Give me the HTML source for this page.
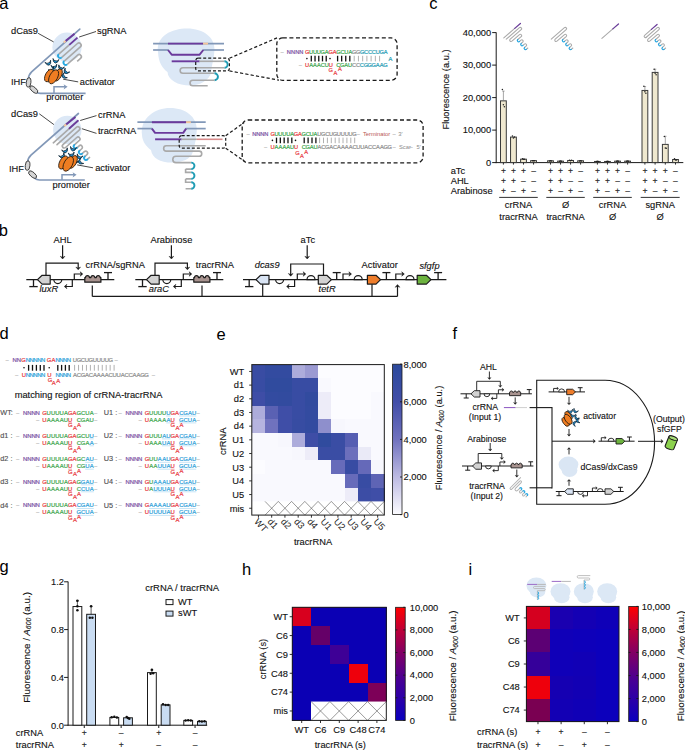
<!DOCTYPE html>
<html><head><meta charset="utf-8"><style>
html,body{margin:0;padding:0;background:#fff;}
body{width:685px;height:750px;overflow:hidden;}
svg{display:block;font-family:"Liberation Sans", sans-serif;}
</style></head><body>
<svg width="685" height="750" viewBox="0 0 685 750">
<rect width="685" height="750" fill="#fff"/>
<g transform="translate(503.80,37.90) rotate(-41) scale(1.0)" fill="none" stroke-linecap="round"><path d="M1,2.6 L18.5,2.6 A1.3,1.3 0 0 1 18.5,5.2 L4,5.2 A1.3,1.3 0 0 0 4,7.800000000000001 L14,7.800000000000001 A1.3,1.3 0 0 1 14,10.4 L9.5,10.4 M9.5,13.0 L11.5,13.0 A1.3,1.3 0 0 1 11.5,15.600000000000001 L9.5,15.600000000000001 M9.5,18.200000000000003 L11.5,18.200000000000003 A1.3,1.3 0 0 1 11.5,20.8 L9.5,20.8 M9.5,23.400000000000002 L11.5,23.400000000000002" stroke="#a9a9a9" stroke-width="1.05"/><path d="M9.5,10.4 A1.3,1.3 0 0 0 9.5,13.0 M9.5,15.600000000000001 A1.3,1.3 0 0 0 9.5,18.200000000000003 M9.5,20.8 A1.3,1.3 0 0 0 9.5,23.400000000000002" stroke="#2aa7e0" stroke-width="1.21"/><path d="M0,0 L14.5,0" stroke="#a9a9a9" stroke-width="1.05"/><path d="M14.5,0 L22,0" stroke="#6a3d9a" stroke-width="1.26"/></g>
<g transform="translate(548.80,37.90) rotate(-41) scale(1.0)" fill="none" stroke-linecap="round"><path d="M1,2.6 L18.5,2.6 A1.3,1.3 0 0 1 18.5,5.2 L4,5.2 A1.3,1.3 0 0 0 4,7.800000000000001 L14,7.800000000000001 A1.3,1.3 0 0 1 14,10.4 L9.5,10.4 M9.5,13.0 L11.5,13.0 A1.3,1.3 0 0 1 11.5,15.600000000000001 L9.5,15.600000000000001 M9.5,18.200000000000003 L11.5,18.200000000000003 A1.3,1.3 0 0 1 11.5,20.8 L9.5,20.8 M9.5,23.400000000000002 L11.5,23.400000000000002" stroke="#a9a9a9" stroke-width="1.05"/><path d="M9.5,10.4 A1.3,1.3 0 0 0 9.5,13.0 M9.5,15.600000000000001 A1.3,1.3 0 0 0 9.5,18.200000000000003 M9.5,20.8 A1.3,1.3 0 0 0 9.5,23.400000000000002" stroke="#2aa7e0" stroke-width="1.21"/></g>
<g transform="translate(601.90,38.40) rotate(-41) scale(1.0)" fill="none" stroke-linecap="round"><path d="M0,0 L14.5,0" stroke="#a9a9a9" stroke-width="1.05"/><path d="M14.5,0 L22,0" stroke="#6a3d9a" stroke-width="1.26"/></g>
<g transform="translate(641.60,37.90) rotate(-41) scale(1.0)" fill="none" stroke-linecap="round"><path d="M13,0 L4,0 A1.3,1.3 0 0 0 4,2.6" stroke="#a9a9a9" stroke-width="1.05"/><path d="M4,2.6 L18.5,2.6 A1.3,1.3 0 0 1 18.5,5.2 L4,5.2 A1.3,1.3 0 0 0 4,7.800000000000001 L14,7.800000000000001 A1.3,1.3 0 0 1 14,10.4 L9.5,10.4 M9.5,13.0 L11.5,13.0 A1.3,1.3 0 0 1 11.5,15.600000000000001 L9.5,15.600000000000001 M9.5,18.200000000000003 L11.5,18.200000000000003 A1.3,1.3 0 0 1 11.5,20.8 L9.5,20.8 M9.5,23.400000000000002 L11.5,23.400000000000002" stroke="#a9a9a9" stroke-width="1.05"/><path d="M9.5,10.4 A1.3,1.3 0 0 0 9.5,13.0 M9.5,15.600000000000001 A1.3,1.3 0 0 0 9.5,18.200000000000003 M9.5,20.8 A1.3,1.3 0 0 0 9.5,23.400000000000002" stroke="#2aa7e0" stroke-width="1.21"/><path d="M13,0 L20.5,0" stroke="#6a3d9a" stroke-width="1.26"/></g>
<text x="429.20" y="9.20" font-size="16.5" text-anchor="start" fill="#000" >c</text>
<line x1="496.20" y1="32.40" x2="496.20" y2="163.10" stroke="#1a1a1a" stroke-width="1" />
<line x1="492.20" y1="162.60" x2="496.20" y2="162.60" stroke="#1a1a1a" stroke-width="1" />
<text x="491.20" y="165.90" font-size="9.3" text-anchor="end" fill="#111" stroke="#111" stroke-width="0.12" >0</text>
<line x1="492.20" y1="130.10" x2="496.20" y2="130.10" stroke="#1a1a1a" stroke-width="1" />
<text x="491.20" y="133.40" font-size="9.3" text-anchor="end" fill="#111" stroke="#111" stroke-width="0.12" >10,000</text>
<line x1="492.20" y1="97.60" x2="496.20" y2="97.60" stroke="#1a1a1a" stroke-width="1" />
<text x="491.20" y="100.90" font-size="9.3" text-anchor="end" fill="#111" stroke="#111" stroke-width="0.12" >20,000</text>
<line x1="492.20" y1="65.10" x2="496.20" y2="65.10" stroke="#1a1a1a" stroke-width="1" />
<text x="491.20" y="68.40" font-size="9.3" text-anchor="end" fill="#111" stroke="#111" stroke-width="0.12" >30,000</text>
<line x1="492.20" y1="32.60" x2="496.20" y2="32.60" stroke="#1a1a1a" stroke-width="1" />
<text x="491.20" y="35.90" font-size="9.3" text-anchor="end" fill="#111" stroke="#111" stroke-width="0.12" >40,000</text>
<text transform="translate(449.30,89.50) rotate(-90)" font-size="9.3" text-anchor="middle" fill="#111" stroke="#111" stroke-width="0.12" >Fluorescence (a.u.)</text>
<line x1="495.70" y1="162.60" x2="683.30" y2="162.60" stroke="#1a1a1a" stroke-width="1" />
<rect x="500.50" y="100.85" width="5.80" height="61.75" fill="#efe8cf" stroke="#3a3a3a" stroke-width="1.0" />
<line x1="503.40" y1="91.10" x2="503.40" y2="100.85" stroke="#6a6a6a" stroke-width="0.6" />
<line x1="502.20" y1="91.10" x2="504.60" y2="91.10" stroke="#6a6a6a" stroke-width="0.6" />
<circle cx="502.40" cy="89.47" r="0.75" fill="#222" stroke="none" stroke-width="1" />
<circle cx="503.40" cy="104.75" r="0.75" fill="#222" stroke="none" stroke-width="1" />
<circle cx="504.40" cy="106.70" r="0.75" fill="#222" stroke="none" stroke-width="1" />
<line x1="503.40" y1="162.60" x2="503.40" y2="164.60" stroke="#1a1a1a" stroke-width="0.9" />
<rect x="510.55" y="137.09" width="5.80" height="25.51" fill="#efe8cf" stroke="#3a3a3a" stroke-width="1.0" />
<circle cx="512.45" cy="135.95" r="0.75" fill="#222" stroke="none" stroke-width="1" />
<circle cx="513.45" cy="137.90" r="0.75" fill="#222" stroke="none" stroke-width="1" />
<circle cx="514.45" cy="136.92" r="0.75" fill="#222" stroke="none" stroke-width="1" />
<line x1="513.45" y1="162.60" x2="513.45" y2="164.60" stroke="#1a1a1a" stroke-width="0.9" />
<rect x="520.60" y="159.19" width="5.80" height="3.41" fill="#efe8cf" stroke="#3a3a3a" stroke-width="1.0" />
<circle cx="522.50" cy="158.70" r="0.75" fill="#222" stroke="none" stroke-width="1" />
<circle cx="523.50" cy="159.35" r="0.75" fill="#222" stroke="none" stroke-width="1" />
<circle cx="524.50" cy="159.35" r="0.75" fill="#222" stroke="none" stroke-width="1" />
<line x1="523.50" y1="162.60" x2="523.50" y2="164.60" stroke="#1a1a1a" stroke-width="0.9" />
<rect x="530.65" y="160.65" width="5.80" height="1.95" fill="#efe8cf" stroke="#3a3a3a" stroke-width="1.0" />
<circle cx="532.55" cy="160.65" r="0.75" fill="#222" stroke="none" stroke-width="1" />
<circle cx="533.55" cy="160.65" r="0.75" fill="#222" stroke="none" stroke-width="1" />
<circle cx="534.55" cy="160.65" r="0.75" fill="#222" stroke="none" stroke-width="1" />
<line x1="533.55" y1="162.60" x2="533.55" y2="164.60" stroke="#1a1a1a" stroke-width="0.9" />
<rect x="547.60" y="160.81" width="5.80" height="1.79" fill="#efe8cf" stroke="#3a3a3a" stroke-width="1.0" />
<circle cx="549.50" cy="160.97" r="0.75" fill="#222" stroke="none" stroke-width="1" />
<circle cx="550.50" cy="160.65" r="0.75" fill="#222" stroke="none" stroke-width="1" />
<circle cx="551.50" cy="160.97" r="0.75" fill="#222" stroke="none" stroke-width="1" />
<line x1="550.50" y1="162.60" x2="550.50" y2="164.60" stroke="#1a1a1a" stroke-width="0.9" />
<rect x="557.63" y="161.14" width="5.80" height="1.46" fill="#efe8cf" stroke="#3a3a3a" stroke-width="1.0" />
<circle cx="559.53" cy="161.30" r="0.75" fill="#222" stroke="none" stroke-width="1" />
<circle cx="560.53" cy="160.97" r="0.75" fill="#222" stroke="none" stroke-width="1" />
<circle cx="561.53" cy="161.30" r="0.75" fill="#222" stroke="none" stroke-width="1" />
<line x1="560.53" y1="162.60" x2="560.53" y2="164.60" stroke="#1a1a1a" stroke-width="0.9" />
<rect x="567.66" y="160.49" width="5.80" height="2.11" fill="#efe8cf" stroke="#3a3a3a" stroke-width="1.0" />
<circle cx="569.56" cy="160.32" r="0.75" fill="#222" stroke="none" stroke-width="1" />
<circle cx="570.56" cy="160.65" r="0.75" fill="#222" stroke="none" stroke-width="1" />
<circle cx="571.56" cy="160.32" r="0.75" fill="#222" stroke="none" stroke-width="1" />
<line x1="570.56" y1="162.60" x2="570.56" y2="164.60" stroke="#1a1a1a" stroke-width="0.9" />
<rect x="577.69" y="160.81" width="5.80" height="1.79" fill="#efe8cf" stroke="#3a3a3a" stroke-width="1.0" />
<circle cx="579.59" cy="160.97" r="0.75" fill="#222" stroke="none" stroke-width="1" />
<circle cx="580.59" cy="160.65" r="0.75" fill="#222" stroke="none" stroke-width="1" />
<circle cx="581.59" cy="160.97" r="0.75" fill="#222" stroke="none" stroke-width="1" />
<line x1="580.59" y1="162.60" x2="580.59" y2="164.60" stroke="#1a1a1a" stroke-width="0.9" />
<rect x="594.50" y="161.46" width="5.80" height="1.14" fill="#efe8cf" stroke="#3a3a3a" stroke-width="1.0" />
<circle cx="596.40" cy="161.62" r="0.75" fill="#222" stroke="none" stroke-width="1" />
<circle cx="597.40" cy="161.30" r="0.75" fill="#222" stroke="none" stroke-width="1" />
<circle cx="598.40" cy="161.62" r="0.75" fill="#222" stroke="none" stroke-width="1" />
<line x1="597.40" y1="162.60" x2="597.40" y2="164.60" stroke="#1a1a1a" stroke-width="0.9" />
<rect x="604.57" y="161.46" width="5.80" height="1.14" fill="#efe8cf" stroke="#3a3a3a" stroke-width="1.0" />
<circle cx="606.47" cy="161.62" r="0.75" fill="#222" stroke="none" stroke-width="1" />
<circle cx="607.47" cy="161.30" r="0.75" fill="#222" stroke="none" stroke-width="1" />
<circle cx="608.47" cy="161.62" r="0.75" fill="#222" stroke="none" stroke-width="1" />
<line x1="607.47" y1="162.60" x2="607.47" y2="164.60" stroke="#1a1a1a" stroke-width="0.9" />
<rect x="614.64" y="161.14" width="5.80" height="1.46" fill="#efe8cf" stroke="#3a3a3a" stroke-width="1.0" />
<circle cx="616.54" cy="161.30" r="0.75" fill="#222" stroke="none" stroke-width="1" />
<circle cx="617.54" cy="160.97" r="0.75" fill="#222" stroke="none" stroke-width="1" />
<circle cx="618.54" cy="161.30" r="0.75" fill="#222" stroke="none" stroke-width="1" />
<line x1="617.54" y1="162.60" x2="617.54" y2="164.60" stroke="#1a1a1a" stroke-width="0.9" />
<rect x="624.71" y="161.14" width="5.80" height="1.46" fill="#efe8cf" stroke="#3a3a3a" stroke-width="1.0" />
<circle cx="626.61" cy="161.30" r="0.75" fill="#222" stroke="none" stroke-width="1" />
<circle cx="627.61" cy="160.97" r="0.75" fill="#222" stroke="none" stroke-width="1" />
<circle cx="628.61" cy="161.30" r="0.75" fill="#222" stroke="none" stroke-width="1" />
<line x1="627.61" y1="162.60" x2="627.61" y2="164.60" stroke="#1a1a1a" stroke-width="0.9" />
<rect x="642.00" y="90.45" width="5.80" height="72.15" fill="#efe8cf" stroke="#3a3a3a" stroke-width="1.0" />
<line x1="644.90" y1="86.55" x2="644.90" y2="90.45" stroke="#6a6a6a" stroke-width="0.6" />
<line x1="643.70" y1="86.55" x2="646.10" y2="86.55" stroke="#6a6a6a" stroke-width="0.6" />
<circle cx="643.90" cy="86.22" r="0.75" fill="#222" stroke="none" stroke-width="1" />
<circle cx="644.90" cy="91.75" r="0.75" fill="#222" stroke="none" stroke-width="1" />
<circle cx="645.90" cy="93.37" r="0.75" fill="#222" stroke="none" stroke-width="1" />
<line x1="644.90" y1="162.60" x2="644.90" y2="164.60" stroke="#1a1a1a" stroke-width="0.9" />
<rect x="652.20" y="72.41" width="5.80" height="90.19" fill="#efe8cf" stroke="#3a3a3a" stroke-width="1.0" />
<line x1="655.10" y1="69.16" x2="655.10" y2="72.41" stroke="#6a6a6a" stroke-width="0.6" />
<line x1="653.90" y1="69.16" x2="656.30" y2="69.16" stroke="#6a6a6a" stroke-width="0.6" />
<circle cx="654.10" cy="69.33" r="0.75" fill="#222" stroke="none" stroke-width="1" />
<circle cx="655.10" cy="73.22" r="0.75" fill="#222" stroke="none" stroke-width="1" />
<circle cx="656.10" cy="74.85" r="0.75" fill="#222" stroke="none" stroke-width="1" />
<line x1="655.10" y1="162.60" x2="655.10" y2="164.60" stroke="#1a1a1a" stroke-width="0.9" />
<rect x="662.40" y="144.40" width="5.80" height="18.20" fill="#efe8cf" stroke="#3a3a3a" stroke-width="1.0" />
<line x1="665.30" y1="136.28" x2="665.30" y2="144.40" stroke="#6a6a6a" stroke-width="0.6" />
<line x1="664.10" y1="136.28" x2="666.50" y2="136.28" stroke="#6a6a6a" stroke-width="0.6" />
<circle cx="664.30" cy="136.60" r="0.75" fill="#222" stroke="none" stroke-width="1" />
<circle cx="665.30" cy="147.97" r="0.75" fill="#222" stroke="none" stroke-width="1" />
<circle cx="666.30" cy="148.30" r="0.75" fill="#222" stroke="none" stroke-width="1" />
<line x1="665.30" y1="162.60" x2="665.30" y2="164.60" stroke="#1a1a1a" stroke-width="0.9" />
<rect x="672.60" y="159.51" width="5.80" height="3.09" fill="#efe8cf" stroke="#3a3a3a" stroke-width="1.0" />
<circle cx="674.50" cy="158.70" r="0.75" fill="#222" stroke="none" stroke-width="1" />
<circle cx="675.50" cy="160.00" r="0.75" fill="#222" stroke="none" stroke-width="1" />
<circle cx="676.50" cy="160.00" r="0.75" fill="#222" stroke="none" stroke-width="1" />
<line x1="675.50" y1="162.60" x2="675.50" y2="164.60" stroke="#1a1a1a" stroke-width="0.9" />
<text x="450.70" y="174.30" font-size="9.3" text-anchor="start" fill="#111" stroke="#111" stroke-width="0.12" >aTc</text>
<text x="450.70" y="184.10" font-size="9.3" text-anchor="start" fill="#111" stroke="#111" stroke-width="0.12" >AHL</text>
<text x="450.70" y="194.00" font-size="9.3" text-anchor="start" fill="#111" stroke="#111" stroke-width="0.12" >Arabinose</text>
<text x="503.40" y="174.00" font-size="8.6" text-anchor="middle" fill="#111" stroke="#111" stroke-width="0.12" >+</text>
<text x="513.45" y="174.00" font-size="8.6" text-anchor="middle" fill="#111" stroke="#111" stroke-width="0.12" >+</text>
<text x="523.50" y="174.00" font-size="8.6" text-anchor="middle" fill="#111" stroke="#111" stroke-width="0.12" >+</text>
<text x="533.55" y="174.00" font-size="8.6" text-anchor="middle" fill="#111" stroke="#111" stroke-width="0.12" >–</text>
<text x="550.50" y="174.00" font-size="8.6" text-anchor="middle" fill="#111" stroke="#111" stroke-width="0.12" >+</text>
<text x="560.53" y="174.00" font-size="8.6" text-anchor="middle" fill="#111" stroke="#111" stroke-width="0.12" >+</text>
<text x="570.56" y="174.00" font-size="8.6" text-anchor="middle" fill="#111" stroke="#111" stroke-width="0.12" >+</text>
<text x="580.59" y="174.00" font-size="8.6" text-anchor="middle" fill="#111" stroke="#111" stroke-width="0.12" >–</text>
<text x="597.40" y="174.00" font-size="8.6" text-anchor="middle" fill="#111" stroke="#111" stroke-width="0.12" >+</text>
<text x="607.47" y="174.00" font-size="8.6" text-anchor="middle" fill="#111" stroke="#111" stroke-width="0.12" >+</text>
<text x="617.54" y="174.00" font-size="8.6" text-anchor="middle" fill="#111" stroke="#111" stroke-width="0.12" >+</text>
<text x="627.61" y="174.00" font-size="8.6" text-anchor="middle" fill="#111" stroke="#111" stroke-width="0.12" >–</text>
<text x="644.90" y="174.00" font-size="8.6" text-anchor="middle" fill="#111" stroke="#111" stroke-width="0.12" >+</text>
<text x="655.10" y="174.00" font-size="8.6" text-anchor="middle" fill="#111" stroke="#111" stroke-width="0.12" >+</text>
<text x="665.30" y="174.00" font-size="8.6" text-anchor="middle" fill="#111" stroke="#111" stroke-width="0.12" >+</text>
<text x="675.50" y="174.00" font-size="8.6" text-anchor="middle" fill="#111" stroke="#111" stroke-width="0.12" >–</text>
<text x="503.40" y="183.80" font-size="8.6" text-anchor="middle" fill="#111" stroke="#111" stroke-width="0.12" >+</text>
<text x="513.45" y="183.80" font-size="8.6" text-anchor="middle" fill="#111" stroke="#111" stroke-width="0.12" >+</text>
<text x="523.50" y="183.80" font-size="8.6" text-anchor="middle" fill="#111" stroke="#111" stroke-width="0.12" >–</text>
<text x="533.55" y="183.80" font-size="8.6" text-anchor="middle" fill="#111" stroke="#111" stroke-width="0.12" >–</text>
<text x="550.50" y="183.80" font-size="8.6" text-anchor="middle" fill="#111" stroke="#111" stroke-width="0.12" >+</text>
<text x="560.53" y="183.80" font-size="8.6" text-anchor="middle" fill="#111" stroke="#111" stroke-width="0.12" >+</text>
<text x="570.56" y="183.80" font-size="8.6" text-anchor="middle" fill="#111" stroke="#111" stroke-width="0.12" >–</text>
<text x="580.59" y="183.80" font-size="8.6" text-anchor="middle" fill="#111" stroke="#111" stroke-width="0.12" >–</text>
<text x="597.40" y="183.80" font-size="8.6" text-anchor="middle" fill="#111" stroke="#111" stroke-width="0.12" >+</text>
<text x="607.47" y="183.80" font-size="8.6" text-anchor="middle" fill="#111" stroke="#111" stroke-width="0.12" >+</text>
<text x="617.54" y="183.80" font-size="8.6" text-anchor="middle" fill="#111" stroke="#111" stroke-width="0.12" >–</text>
<text x="627.61" y="183.80" font-size="8.6" text-anchor="middle" fill="#111" stroke="#111" stroke-width="0.12" >–</text>
<text x="644.90" y="183.80" font-size="8.6" text-anchor="middle" fill="#111" stroke="#111" stroke-width="0.12" >+</text>
<text x="655.10" y="183.80" font-size="8.6" text-anchor="middle" fill="#111" stroke="#111" stroke-width="0.12" >+</text>
<text x="665.30" y="183.80" font-size="8.6" text-anchor="middle" fill="#111" stroke="#111" stroke-width="0.12" >–</text>
<text x="675.50" y="183.80" font-size="8.6" text-anchor="middle" fill="#111" stroke="#111" stroke-width="0.12" >–</text>
<text x="503.40" y="193.70" font-size="8.6" text-anchor="middle" fill="#111" stroke="#111" stroke-width="0.12" >+</text>
<text x="513.45" y="193.70" font-size="8.6" text-anchor="middle" fill="#111" stroke="#111" stroke-width="0.12" >–</text>
<text x="523.50" y="193.70" font-size="8.6" text-anchor="middle" fill="#111" stroke="#111" stroke-width="0.12" >+</text>
<text x="533.55" y="193.70" font-size="8.6" text-anchor="middle" fill="#111" stroke="#111" stroke-width="0.12" >–</text>
<text x="550.50" y="193.70" font-size="8.6" text-anchor="middle" fill="#111" stroke="#111" stroke-width="0.12" >+</text>
<text x="560.53" y="193.70" font-size="8.6" text-anchor="middle" fill="#111" stroke="#111" stroke-width="0.12" >–</text>
<text x="570.56" y="193.70" font-size="8.6" text-anchor="middle" fill="#111" stroke="#111" stroke-width="0.12" >+</text>
<text x="580.59" y="193.70" font-size="8.6" text-anchor="middle" fill="#111" stroke="#111" stroke-width="0.12" >–</text>
<text x="597.40" y="193.70" font-size="8.6" text-anchor="middle" fill="#111" stroke="#111" stroke-width="0.12" >+</text>
<text x="607.47" y="193.70" font-size="8.6" text-anchor="middle" fill="#111" stroke="#111" stroke-width="0.12" >–</text>
<text x="617.54" y="193.70" font-size="8.6" text-anchor="middle" fill="#111" stroke="#111" stroke-width="0.12" >+</text>
<text x="627.61" y="193.70" font-size="8.6" text-anchor="middle" fill="#111" stroke="#111" stroke-width="0.12" >–</text>
<text x="644.90" y="193.70" font-size="8.6" text-anchor="middle" fill="#111" stroke="#111" stroke-width="0.12" >+</text>
<text x="655.10" y="193.70" font-size="8.6" text-anchor="middle" fill="#111" stroke="#111" stroke-width="0.12" >–</text>
<text x="665.30" y="193.70" font-size="8.6" text-anchor="middle" fill="#111" stroke="#111" stroke-width="0.12" >+</text>
<text x="675.50" y="193.70" font-size="8.6" text-anchor="middle" fill="#111" stroke="#111" stroke-width="0.12" >–</text>
<line x1="499.20" y1="197.40" x2="537.75" y2="197.40" stroke="#1a1a1a" stroke-width="0.9" />
<line x1="546.30" y1="197.40" x2="584.79" y2="197.40" stroke="#1a1a1a" stroke-width="0.9" />
<line x1="593.20" y1="197.40" x2="631.81" y2="197.40" stroke="#1a1a1a" stroke-width="0.9" />
<line x1="640.70" y1="197.40" x2="679.70" y2="197.40" stroke="#1a1a1a" stroke-width="0.9" />
<text x="518.48" y="208.40" font-size="9.3" text-anchor="middle" fill="#111" stroke="#111" stroke-width="0.12" >crRNA</text>
<text x="518.48" y="219.80" font-size="9.3" text-anchor="middle" fill="#111" stroke="#111" stroke-width="0.12" >tracrRNA</text>
<text x="565.54" y="208.40" font-size="9.3" text-anchor="middle" fill="#111" stroke="#111" stroke-width="0.12" >Ø</text>
<text x="565.54" y="219.80" font-size="9.3" text-anchor="middle" fill="#111" stroke="#111" stroke-width="0.12" >tracrRNA</text>
<text x="612.50" y="208.40" font-size="9.3" text-anchor="middle" fill="#111" stroke="#111" stroke-width="0.12" >crRNA</text>
<text x="612.50" y="219.80" font-size="9.3" text-anchor="middle" fill="#111" stroke="#111" stroke-width="0.12" >Ø</text>
<text x="660.20" y="208.40" font-size="9.3" text-anchor="middle" fill="#111" stroke="#111" stroke-width="0.12" >sgRNA</text>
<text x="660.20" y="219.80" font-size="9.3" text-anchor="middle" fill="#111" stroke="#111" stroke-width="0.12" >Ø</text>
<text x="216.60" y="339.60" font-size="16.5" text-anchor="start" fill="#000" >e</text>
<rect x="251.80" y="364.60" width="13.55" height="13.98" fill="#394ca3" stroke="none" stroke-width="1" shape-rendering="crispEdges"/>
<rect x="265.05" y="364.60" width="13.55" height="13.98" fill="#334ba0" stroke="none" stroke-width="1" shape-rendering="crispEdges"/>
<rect x="278.30" y="364.60" width="13.55" height="13.98" fill="#334ba0" stroke="none" stroke-width="1" shape-rendering="crispEdges"/>
<rect x="291.55" y="364.60" width="13.55" height="13.98" fill="#adacdb" stroke="none" stroke-width="1" shape-rendering="crispEdges"/>
<rect x="304.80" y="364.60" width="13.55" height="13.98" fill="#9b9ad2" stroke="none" stroke-width="1" shape-rendering="crispEdges"/>
<rect x="318.05" y="364.60" width="13.55" height="13.98" fill="#fcfcff" stroke="none" stroke-width="1" shape-rendering="crispEdges"/>
<rect x="331.30" y="364.60" width="13.55" height="13.98" fill="#fcfcff" stroke="none" stroke-width="1" shape-rendering="crispEdges"/>
<rect x="344.55" y="364.60" width="13.55" height="13.98" fill="#fcfcff" stroke="none" stroke-width="1" shape-rendering="crispEdges"/>
<rect x="357.80" y="364.60" width="13.55" height="13.98" fill="#fcfcff" stroke="none" stroke-width="1" shape-rendering="crispEdges"/>
<rect x="371.05" y="364.60" width="13.55" height="13.98" fill="#fcfcff" stroke="none" stroke-width="1" shape-rendering="crispEdges"/>
<rect x="251.80" y="378.28" width="13.55" height="13.98" fill="#384ca3" stroke="none" stroke-width="1" shape-rendering="crispEdges"/>
<rect x="265.05" y="378.28" width="13.55" height="13.98" fill="#304b9e" stroke="none" stroke-width="1" shape-rendering="crispEdges"/>
<rect x="278.30" y="378.28" width="13.55" height="13.98" fill="#304b9e" stroke="none" stroke-width="1" shape-rendering="crispEdges"/>
<rect x="291.55" y="378.28" width="13.55" height="13.98" fill="#384ca3" stroke="none" stroke-width="1" shape-rendering="crispEdges"/>
<rect x="304.80" y="378.28" width="13.55" height="13.98" fill="#384ca3" stroke="none" stroke-width="1" shape-rendering="crispEdges"/>
<rect x="318.05" y="378.28" width="13.55" height="13.98" fill="#f9f9fe" stroke="none" stroke-width="1" shape-rendering="crispEdges"/>
<rect x="331.30" y="378.28" width="13.55" height="13.98" fill="#fcfcff" stroke="none" stroke-width="1" shape-rendering="crispEdges"/>
<rect x="344.55" y="378.28" width="13.55" height="13.98" fill="#fcfcff" stroke="none" stroke-width="1" shape-rendering="crispEdges"/>
<rect x="357.80" y="378.28" width="13.55" height="13.98" fill="#fcfcff" stroke="none" stroke-width="1" shape-rendering="crispEdges"/>
<rect x="371.05" y="378.28" width="13.55" height="13.98" fill="#fcfcff" stroke="none" stroke-width="1" shape-rendering="crispEdges"/>
<rect x="251.80" y="391.96" width="13.55" height="13.98" fill="#3e4da6" stroke="none" stroke-width="1" shape-rendering="crispEdges"/>
<rect x="265.05" y="391.96" width="13.55" height="13.98" fill="#334ba0" stroke="none" stroke-width="1" shape-rendering="crispEdges"/>
<rect x="278.30" y="391.96" width="13.55" height="13.98" fill="#324b9f" stroke="none" stroke-width="1" shape-rendering="crispEdges"/>
<rect x="291.55" y="391.96" width="13.55" height="13.98" fill="#384ca3" stroke="none" stroke-width="1" shape-rendering="crispEdges"/>
<rect x="304.80" y="391.96" width="13.55" height="13.98" fill="#324b9f" stroke="none" stroke-width="1" shape-rendering="crispEdges"/>
<rect x="318.05" y="391.96" width="13.55" height="13.98" fill="#edecf8" stroke="none" stroke-width="1" shape-rendering="crispEdges"/>
<rect x="331.30" y="391.96" width="13.55" height="13.98" fill="#fcfcff" stroke="none" stroke-width="1" shape-rendering="crispEdges"/>
<rect x="344.55" y="391.96" width="13.55" height="13.98" fill="#fcfcff" stroke="none" stroke-width="1" shape-rendering="crispEdges"/>
<rect x="357.80" y="391.96" width="13.55" height="13.98" fill="#fcfcff" stroke="none" stroke-width="1" shape-rendering="crispEdges"/>
<rect x="371.05" y="391.96" width="13.55" height="13.98" fill="#f9f9fe" stroke="none" stroke-width="1" shape-rendering="crispEdges"/>
<rect x="251.80" y="405.64" width="13.55" height="13.98" fill="#adacdb" stroke="none" stroke-width="1" shape-rendering="crispEdges"/>
<rect x="265.05" y="405.64" width="13.55" height="13.98" fill="#5a61b3" stroke="none" stroke-width="1" shape-rendering="crispEdges"/>
<rect x="278.30" y="405.64" width="13.55" height="13.98" fill="#3f4ea7" stroke="none" stroke-width="1" shape-rendering="crispEdges"/>
<rect x="291.55" y="405.64" width="13.55" height="13.98" fill="#384ca3" stroke="none" stroke-width="1" shape-rendering="crispEdges"/>
<rect x="304.80" y="405.64" width="13.55" height="13.98" fill="#334ba0" stroke="none" stroke-width="1" shape-rendering="crispEdges"/>
<rect x="318.05" y="405.64" width="13.55" height="13.98" fill="#edecf8" stroke="none" stroke-width="1" shape-rendering="crispEdges"/>
<rect x="331.30" y="405.64" width="13.55" height="13.98" fill="#fcfcff" stroke="none" stroke-width="1" shape-rendering="crispEdges"/>
<rect x="344.55" y="405.64" width="13.55" height="13.98" fill="#fcfcff" stroke="none" stroke-width="1" shape-rendering="crispEdges"/>
<rect x="357.80" y="405.64" width="13.55" height="13.98" fill="#fcfcff" stroke="none" stroke-width="1" shape-rendering="crispEdges"/>
<rect x="371.05" y="405.64" width="13.55" height="13.98" fill="#f9f9fe" stroke="none" stroke-width="1" shape-rendering="crispEdges"/>
<rect x="251.80" y="419.32" width="13.55" height="13.98" fill="#b6b4df" stroke="none" stroke-width="1" shape-rendering="crispEdges"/>
<rect x="265.05" y="419.32" width="13.55" height="13.98" fill="#7072be" stroke="none" stroke-width="1" shape-rendering="crispEdges"/>
<rect x="278.30" y="419.32" width="13.55" height="13.98" fill="#3f4ea7" stroke="none" stroke-width="1" shape-rendering="crispEdges"/>
<rect x="291.55" y="419.32" width="13.55" height="13.98" fill="#374ca2" stroke="none" stroke-width="1" shape-rendering="crispEdges"/>
<rect x="304.80" y="419.32" width="13.55" height="13.98" fill="#334ba0" stroke="none" stroke-width="1" shape-rendering="crispEdges"/>
<rect x="318.05" y="419.32" width="13.55" height="13.98" fill="#8e8fcc" stroke="none" stroke-width="1" shape-rendering="crispEdges"/>
<rect x="331.30" y="419.32" width="13.55" height="13.98" fill="#f7f7fd" stroke="none" stroke-width="1" shape-rendering="crispEdges"/>
<rect x="344.55" y="419.32" width="13.55" height="13.98" fill="#f9f9fe" stroke="none" stroke-width="1" shape-rendering="crispEdges"/>
<rect x="357.80" y="419.32" width="13.55" height="13.98" fill="#f9f9fe" stroke="none" stroke-width="1" shape-rendering="crispEdges"/>
<rect x="371.05" y="419.32" width="13.55" height="13.98" fill="#f9f9fe" stroke="none" stroke-width="1" shape-rendering="crispEdges"/>
<rect x="251.80" y="433.00" width="13.55" height="13.98" fill="#f9f9fe" stroke="none" stroke-width="1" shape-rendering="crispEdges"/>
<rect x="265.05" y="433.00" width="13.55" height="13.98" fill="#f9f9fe" stroke="none" stroke-width="1" shape-rendering="crispEdges"/>
<rect x="278.30" y="433.00" width="13.55" height="13.98" fill="#f7f7fd" stroke="none" stroke-width="1" shape-rendering="crispEdges"/>
<rect x="291.55" y="433.00" width="13.55" height="13.98" fill="#adacdb" stroke="none" stroke-width="1" shape-rendering="crispEdges"/>
<rect x="304.80" y="433.00" width="13.55" height="13.98" fill="#3e4da6" stroke="none" stroke-width="1" shape-rendering="crispEdges"/>
<rect x="318.05" y="433.00" width="13.55" height="13.98" fill="#304b9e" stroke="none" stroke-width="1" shape-rendering="crispEdges"/>
<rect x="331.30" y="433.00" width="13.55" height="13.98" fill="#3a4da4" stroke="none" stroke-width="1" shape-rendering="crispEdges"/>
<rect x="344.55" y="433.00" width="13.55" height="13.98" fill="#565eb2" stroke="none" stroke-width="1" shape-rendering="crispEdges"/>
<rect x="357.80" y="433.00" width="13.55" height="13.98" fill="#f9f9fe" stroke="none" stroke-width="1" shape-rendering="crispEdges"/>
<rect x="371.05" y="433.00" width="13.55" height="13.98" fill="#f9f9fe" stroke="none" stroke-width="1" shape-rendering="crispEdges"/>
<rect x="251.80" y="446.68" width="13.55" height="13.98" fill="#f9f9fe" stroke="none" stroke-width="1" shape-rendering="crispEdges"/>
<rect x="265.05" y="446.68" width="13.55" height="13.98" fill="#f9f9fe" stroke="none" stroke-width="1" shape-rendering="crispEdges"/>
<rect x="278.30" y="446.68" width="13.55" height="13.98" fill="#f9f9fe" stroke="none" stroke-width="1" shape-rendering="crispEdges"/>
<rect x="291.55" y="446.68" width="13.55" height="13.98" fill="#f7f7fd" stroke="none" stroke-width="1" shape-rendering="crispEdges"/>
<rect x="304.80" y="446.68" width="13.55" height="13.98" fill="#edecf8" stroke="none" stroke-width="1" shape-rendering="crispEdges"/>
<rect x="318.05" y="446.68" width="13.55" height="13.98" fill="#3a4da4" stroke="none" stroke-width="1" shape-rendering="crispEdges"/>
<rect x="331.30" y="446.68" width="13.55" height="13.98" fill="#3a4da4" stroke="none" stroke-width="1" shape-rendering="crispEdges"/>
<rect x="344.55" y="446.68" width="13.55" height="13.98" fill="#6c6fbc" stroke="none" stroke-width="1" shape-rendering="crispEdges"/>
<rect x="357.80" y="446.68" width="13.55" height="13.98" fill="#eaeaf7" stroke="none" stroke-width="1" shape-rendering="crispEdges"/>
<rect x="371.05" y="446.68" width="13.55" height="13.98" fill="#f9f9fe" stroke="none" stroke-width="1" shape-rendering="crispEdges"/>
<rect x="251.80" y="460.36" width="13.55" height="13.98" fill="#fcfcff" stroke="none" stroke-width="1" shape-rendering="crispEdges"/>
<rect x="265.05" y="460.36" width="13.55" height="13.98" fill="#f9f9fe" stroke="none" stroke-width="1" shape-rendering="crispEdges"/>
<rect x="278.30" y="460.36" width="13.55" height="13.98" fill="#f9f9fe" stroke="none" stroke-width="1" shape-rendering="crispEdges"/>
<rect x="291.55" y="460.36" width="13.55" height="13.98" fill="#f9f9fe" stroke="none" stroke-width="1" shape-rendering="crispEdges"/>
<rect x="304.80" y="460.36" width="13.55" height="13.98" fill="#f9f9fe" stroke="none" stroke-width="1" shape-rendering="crispEdges"/>
<rect x="318.05" y="460.36" width="13.55" height="13.98" fill="#f9f9fe" stroke="none" stroke-width="1" shape-rendering="crispEdges"/>
<rect x="331.30" y="460.36" width="13.55" height="13.98" fill="#676bba" stroke="none" stroke-width="1" shape-rendering="crispEdges"/>
<rect x="344.55" y="460.36" width="13.55" height="13.98" fill="#384ca3" stroke="none" stroke-width="1" shape-rendering="crispEdges"/>
<rect x="357.80" y="460.36" width="13.55" height="13.98" fill="#6569b9" stroke="none" stroke-width="1" shape-rendering="crispEdges"/>
<rect x="371.05" y="460.36" width="13.55" height="13.98" fill="#f7f7fd" stroke="none" stroke-width="1" shape-rendering="crispEdges"/>
<rect x="251.80" y="474.04" width="13.55" height="13.98" fill="#f9f9fe" stroke="none" stroke-width="1" shape-rendering="crispEdges"/>
<rect x="265.05" y="474.04" width="13.55" height="13.98" fill="#f9f9fe" stroke="none" stroke-width="1" shape-rendering="crispEdges"/>
<rect x="278.30" y="474.04" width="13.55" height="13.98" fill="#f9f9fe" stroke="none" stroke-width="1" shape-rendering="crispEdges"/>
<rect x="291.55" y="474.04" width="13.55" height="13.98" fill="#f9f9fe" stroke="none" stroke-width="1" shape-rendering="crispEdges"/>
<rect x="304.80" y="474.04" width="13.55" height="13.98" fill="#f9f9fe" stroke="none" stroke-width="1" shape-rendering="crispEdges"/>
<rect x="318.05" y="474.04" width="13.55" height="13.98" fill="#f9f9fe" stroke="none" stroke-width="1" shape-rendering="crispEdges"/>
<rect x="331.30" y="474.04" width="13.55" height="13.98" fill="#f9f9fe" stroke="none" stroke-width="1" shape-rendering="crispEdges"/>
<rect x="344.55" y="474.04" width="13.55" height="13.98" fill="#676bba" stroke="none" stroke-width="1" shape-rendering="crispEdges"/>
<rect x="357.80" y="474.04" width="13.55" height="13.98" fill="#384ca3" stroke="none" stroke-width="1" shape-rendering="crispEdges"/>
<rect x="371.05" y="474.04" width="13.55" height="13.98" fill="#5e64b5" stroke="none" stroke-width="1" shape-rendering="crispEdges"/>
<rect x="251.80" y="487.72" width="13.55" height="13.98" fill="#f9f9fe" stroke="none" stroke-width="1" shape-rendering="crispEdges"/>
<rect x="265.05" y="487.72" width="13.55" height="13.98" fill="#f9f9fe" stroke="none" stroke-width="1" shape-rendering="crispEdges"/>
<rect x="278.30" y="487.72" width="13.55" height="13.98" fill="#f9f9fe" stroke="none" stroke-width="1" shape-rendering="crispEdges"/>
<rect x="291.55" y="487.72" width="13.55" height="13.98" fill="#f9f9fe" stroke="none" stroke-width="1" shape-rendering="crispEdges"/>
<rect x="304.80" y="487.72" width="13.55" height="13.98" fill="#f9f9fe" stroke="none" stroke-width="1" shape-rendering="crispEdges"/>
<rect x="318.05" y="487.72" width="13.55" height="13.98" fill="#f9f9fe" stroke="none" stroke-width="1" shape-rendering="crispEdges"/>
<rect x="331.30" y="487.72" width="13.55" height="13.98" fill="#f9f9fe" stroke="none" stroke-width="1" shape-rendering="crispEdges"/>
<rect x="344.55" y="487.72" width="13.55" height="13.98" fill="#edecf8" stroke="none" stroke-width="1" shape-rendering="crispEdges"/>
<rect x="357.80" y="487.72" width="13.55" height="13.98" fill="#3c4da5" stroke="none" stroke-width="1" shape-rendering="crispEdges"/>
<rect x="371.05" y="487.72" width="13.55" height="13.98" fill="#3f4ea7" stroke="none" stroke-width="1" shape-rendering="crispEdges"/>
<rect x="251.80" y="501.40" width="132.50" height="13.68" fill="#ffffff" stroke="none" stroke-width="1" />
<path d="M265.05,501.40 L278.30,515.08 M278.30,501.40 L265.05,515.08 M278.30,501.40 L291.55,515.08 M291.55,501.40 L278.30,515.08 M291.55,501.40 L304.80,515.08 M304.80,501.40 L291.55,515.08 M304.80,501.40 L318.05,515.08 M318.05,501.40 L304.80,515.08 M318.05,501.40 L331.30,515.08 M331.30,501.40 L318.05,515.08 M331.30,501.40 L344.55,515.08 M344.55,501.40 L331.30,515.08 M344.55,501.40 L357.80,515.08 M357.80,501.40 L344.55,515.08 M357.80,501.40 L371.05,515.08 M371.05,501.40 L357.80,515.08 M371.05,501.40 L384.30,515.08 M384.30,501.40 L371.05,515.08" stroke="#555" stroke-width="0.6" fill="none" />
<rect x="251.80" y="364.60" width="132.50" height="150.48" fill="none" stroke="#1a1a1a" stroke-width="1" />
<line x1="249.20" y1="371.44" x2="251.80" y2="371.44" stroke="#1a1a1a" stroke-width="0.9" />
<text x="244.20" y="374.74" font-size="9.3" text-anchor="end" fill="#111" stroke="#111" stroke-width="0.12" >WT</text>
<line x1="249.20" y1="385.12" x2="251.80" y2="385.12" stroke="#1a1a1a" stroke-width="0.9" />
<text x="244.20" y="388.42" font-size="9.3" text-anchor="end" fill="#111" stroke="#111" stroke-width="0.12" >d1</text>
<line x1="249.20" y1="398.80" x2="251.80" y2="398.80" stroke="#1a1a1a" stroke-width="0.9" />
<text x="244.20" y="402.10" font-size="9.3" text-anchor="end" fill="#111" stroke="#111" stroke-width="0.12" >d2</text>
<line x1="249.20" y1="412.48" x2="251.80" y2="412.48" stroke="#1a1a1a" stroke-width="0.9" />
<text x="244.20" y="415.78" font-size="9.3" text-anchor="end" fill="#111" stroke="#111" stroke-width="0.12" >d3</text>
<line x1="249.20" y1="426.16" x2="251.80" y2="426.16" stroke="#1a1a1a" stroke-width="0.9" />
<text x="244.20" y="429.46" font-size="9.3" text-anchor="end" fill="#111" stroke="#111" stroke-width="0.12" >d4</text>
<line x1="249.20" y1="439.84" x2="251.80" y2="439.84" stroke="#1a1a1a" stroke-width="0.9" />
<text x="244.20" y="443.14" font-size="9.3" text-anchor="end" fill="#111" stroke="#111" stroke-width="0.12" >U1</text>
<line x1="249.20" y1="453.52" x2="251.80" y2="453.52" stroke="#1a1a1a" stroke-width="0.9" />
<text x="244.20" y="456.82" font-size="9.3" text-anchor="end" fill="#111" stroke="#111" stroke-width="0.12" >U2</text>
<line x1="249.20" y1="467.20" x2="251.80" y2="467.20" stroke="#1a1a1a" stroke-width="0.9" />
<text x="244.20" y="470.50" font-size="9.3" text-anchor="end" fill="#111" stroke="#111" stroke-width="0.12" >U3</text>
<line x1="249.20" y1="480.88" x2="251.80" y2="480.88" stroke="#1a1a1a" stroke-width="0.9" />
<text x="244.20" y="484.18" font-size="9.3" text-anchor="end" fill="#111" stroke="#111" stroke-width="0.12" >U4</text>
<line x1="249.20" y1="494.56" x2="251.80" y2="494.56" stroke="#1a1a1a" stroke-width="0.9" />
<text x="244.20" y="497.86" font-size="9.3" text-anchor="end" fill="#111" stroke="#111" stroke-width="0.12" >U5</text>
<line x1="249.20" y1="508.24" x2="251.80" y2="508.24" stroke="#1a1a1a" stroke-width="0.9" />
<text x="244.20" y="511.54" font-size="9.3" text-anchor="end" fill="#111" stroke="#111" stroke-width="0.12" >mis</text>
<line x1="258.43" y1="515.08" x2="258.43" y2="517.68" stroke="#1a1a1a" stroke-width="0.9" />
<text transform="translate(253.83,522.00) rotate(48)" font-size="9.3" fill="#1a1a1a">WT</text>
<line x1="271.68" y1="515.08" x2="271.68" y2="517.68" stroke="#1a1a1a" stroke-width="0.9" />
<text transform="translate(267.07,522.00) rotate(48)" font-size="9.3" fill="#1a1a1a">d1</text>
<line x1="284.93" y1="515.08" x2="284.93" y2="517.68" stroke="#1a1a1a" stroke-width="0.9" />
<text transform="translate(280.32,522.00) rotate(48)" font-size="9.3" fill="#1a1a1a">d2</text>
<line x1="298.18" y1="515.08" x2="298.18" y2="517.68" stroke="#1a1a1a" stroke-width="0.9" />
<text transform="translate(293.57,522.00) rotate(48)" font-size="9.3" fill="#1a1a1a">d3</text>
<line x1="311.43" y1="515.08" x2="311.43" y2="517.68" stroke="#1a1a1a" stroke-width="0.9" />
<text transform="translate(306.82,522.00) rotate(48)" font-size="9.3" fill="#1a1a1a">d4</text>
<line x1="324.68" y1="515.08" x2="324.68" y2="517.68" stroke="#1a1a1a" stroke-width="0.9" />
<text transform="translate(320.07,522.00) rotate(48)" font-size="9.3" fill="#1a1a1a">U1</text>
<line x1="337.93" y1="515.08" x2="337.93" y2="517.68" stroke="#1a1a1a" stroke-width="0.9" />
<text transform="translate(333.32,522.00) rotate(48)" font-size="9.3" fill="#1a1a1a">U2</text>
<line x1="351.18" y1="515.08" x2="351.18" y2="517.68" stroke="#1a1a1a" stroke-width="0.9" />
<text transform="translate(346.57,522.00) rotate(48)" font-size="9.3" fill="#1a1a1a">U3</text>
<line x1="364.43" y1="515.08" x2="364.43" y2="517.68" stroke="#1a1a1a" stroke-width="0.9" />
<text transform="translate(359.82,522.00) rotate(48)" font-size="9.3" fill="#1a1a1a">U4</text>
<line x1="377.68" y1="515.08" x2="377.68" y2="517.68" stroke="#1a1a1a" stroke-width="0.9" />
<text transform="translate(373.07,522.00) rotate(48)" font-size="9.3" fill="#1a1a1a">U5</text>
<text transform="translate(225.60,441.20) rotate(-90)" font-size="9.3" text-anchor="middle" fill="#111" stroke="#111" stroke-width="0.12" >crRNA</text>
<text x="313.00" y="545.20" font-size="9.3" text-anchor="middle" fill="#111" stroke="#111" stroke-width="0.12" >tracrRNA</text>
<defs><linearGradient id="gE" x1="0" y1="1" x2="0" y2="0"><stop offset="0" stop-color="rgb(252, 252, 255)"/><stop offset="0.25" stop-color="rgb(188, 186, 226)"/><stop offset="0.5" stop-color="rgb(112, 114, 190)"/><stop offset="0.75" stop-color="rgb(66, 78, 168)"/><stop offset="1.0" stop-color="rgb(44, 74, 156)"/></linearGradient></defs>
<rect x="392.60" y="364.20" width="9.40" height="150.40" fill="url(#gE)" stroke="#1a1a1a" stroke-width="0.8" />
<line x1="400.00" y1="514.60" x2="402.00" y2="514.60" stroke="#1a1a1a" stroke-width="0.9" />
<text x="403.50" y="517.90" font-size="9.3" text-anchor="start" fill="#111" stroke="#111" stroke-width="0.12" >0</text>
<line x1="400.00" y1="477.00" x2="402.00" y2="477.00" stroke="#1a1a1a" stroke-width="0.9" />
<text x="403.50" y="480.30" font-size="9.3" text-anchor="start" fill="#111" stroke="#111" stroke-width="0.12" >2,000</text>
<line x1="400.00" y1="439.40" x2="402.00" y2="439.40" stroke="#1a1a1a" stroke-width="0.9" />
<text x="403.50" y="442.70" font-size="9.3" text-anchor="start" fill="#111" stroke="#111" stroke-width="0.12" >4,000</text>
<line x1="400.00" y1="401.80" x2="402.00" y2="401.80" stroke="#1a1a1a" stroke-width="0.9" />
<text x="403.50" y="405.10" font-size="9.3" text-anchor="start" fill="#111" stroke="#111" stroke-width="0.12" >6,000</text>
<line x1="400.00" y1="364.20" x2="402.00" y2="364.20" stroke="#1a1a1a" stroke-width="0.9" />
<text x="403.50" y="367.50" font-size="9.3" text-anchor="start" fill="#111" stroke="#111" stroke-width="0.12" >8,000</text>
<text transform="translate(442.00,438.00) rotate(-90)" font-size="9.3" text-anchor="middle" fill="#111" stroke="#111" stroke-width="0.12" >Fluorescence /<tspan font-style="italic"> A</tspan><tspan font-style="italic" font-size="6.5" dy="1.5">600</tspan><tspan dy="-1.5"> (a.u.)</tspan></text>
<text x="242.00" y="575.30" font-size="16.5" text-anchor="start" fill="#000" >h</text>
<rect x="292.30" y="607.30" width="19.10" height="19.15" fill="#d8001e" stroke="none" stroke-width="1" shape-rendering="crispEdges"/>
<rect x="311.10" y="607.30" width="19.10" height="19.15" fill="#0b00b4" stroke="none" stroke-width="1" shape-rendering="crispEdges"/>
<rect x="329.90" y="607.30" width="19.10" height="19.15" fill="#0b00b4" stroke="none" stroke-width="1" shape-rendering="crispEdges"/>
<rect x="348.70" y="607.30" width="19.10" height="19.15" fill="#0b00b4" stroke="none" stroke-width="1" shape-rendering="crispEdges"/>
<rect x="367.50" y="607.30" width="19.10" height="19.15" fill="#0b00b4" stroke="none" stroke-width="1" shape-rendering="crispEdges"/>
<rect x="292.30" y="626.15" width="19.10" height="19.15" fill="#0b00b4" stroke="none" stroke-width="1" shape-rendering="crispEdges"/>
<rect x="311.10" y="626.15" width="19.10" height="19.15" fill="#650068" stroke="none" stroke-width="1" shape-rendering="crispEdges"/>
<rect x="329.90" y="626.15" width="19.10" height="19.15" fill="#0b00b4" stroke="none" stroke-width="1" shape-rendering="crispEdges"/>
<rect x="348.70" y="626.15" width="19.10" height="19.15" fill="#0b00b4" stroke="none" stroke-width="1" shape-rendering="crispEdges"/>
<rect x="367.50" y="626.15" width="19.10" height="19.15" fill="#0b00b4" stroke="none" stroke-width="1" shape-rendering="crispEdges"/>
<rect x="292.30" y="645.00" width="19.10" height="19.15" fill="#0b00b4" stroke="none" stroke-width="1" shape-rendering="crispEdges"/>
<rect x="311.10" y="645.00" width="19.10" height="19.15" fill="#0b00b4" stroke="none" stroke-width="1" shape-rendering="crispEdges"/>
<rect x="329.90" y="645.00" width="19.10" height="19.15" fill="#3e0096" stroke="none" stroke-width="1" shape-rendering="crispEdges"/>
<rect x="348.70" y="645.00" width="19.10" height="19.15" fill="#0b00b4" stroke="none" stroke-width="1" shape-rendering="crispEdges"/>
<rect x="367.50" y="645.00" width="19.10" height="19.15" fill="#0b00b4" stroke="none" stroke-width="1" shape-rendering="crispEdges"/>
<rect x="292.30" y="663.85" width="19.10" height="19.15" fill="#0b00b4" stroke="none" stroke-width="1" shape-rendering="crispEdges"/>
<rect x="311.10" y="663.85" width="19.10" height="19.15" fill="#0b00b4" stroke="none" stroke-width="1" shape-rendering="crispEdges"/>
<rect x="329.90" y="663.85" width="19.10" height="19.15" fill="#0b00b4" stroke="none" stroke-width="1" shape-rendering="crispEdges"/>
<rect x="348.70" y="663.85" width="19.10" height="19.15" fill="#ee000c" stroke="none" stroke-width="1" shape-rendering="crispEdges"/>
<rect x="367.50" y="663.85" width="19.10" height="19.15" fill="#0b00b4" stroke="none" stroke-width="1" shape-rendering="crispEdges"/>
<rect x="292.30" y="682.70" width="19.10" height="19.15" fill="#0b00b4" stroke="none" stroke-width="1" shape-rendering="crispEdges"/>
<rect x="311.10" y="682.70" width="19.10" height="19.15" fill="#0b00b4" stroke="none" stroke-width="1" shape-rendering="crispEdges"/>
<rect x="329.90" y="682.70" width="19.10" height="19.15" fill="#0b00b4" stroke="none" stroke-width="1" shape-rendering="crispEdges"/>
<rect x="348.70" y="682.70" width="19.10" height="19.15" fill="#0b00b4" stroke="none" stroke-width="1" shape-rendering="crispEdges"/>
<rect x="367.50" y="682.70" width="19.10" height="19.15" fill="#7d0058" stroke="none" stroke-width="1" shape-rendering="crispEdges"/>
<rect x="292.30" y="701.55" width="19.10" height="19.15" fill="#0b00b4" stroke="none" stroke-width="1" shape-rendering="crispEdges"/>
<rect x="311.10" y="701.55" width="75.20" height="18.85" fill="#ffffff" stroke="none" stroke-width="1" />
<path d="M311.10,701.55 L329.90,720.40 M329.90,701.55 L311.10,720.40 M329.90,701.55 L348.70,720.40 M348.70,701.55 L329.90,720.40 M348.70,701.55 L367.50,720.40 M367.50,701.55 L348.70,720.40 M367.50,701.55 L386.30,720.40 M386.30,701.55 L367.50,720.40" stroke="#555" stroke-width="0.6" fill="none" />
<rect x="292.30" y="607.30" width="94.00" height="113.10" fill="none" stroke="#1a1a1a" stroke-width="1" />
<line x1="289.70" y1="616.72" x2="292.30" y2="616.72" stroke="#1a1a1a" stroke-width="0.9" />
<text x="288.00" y="620.02" font-size="9.3" text-anchor="end" fill="#111" stroke="#111" stroke-width="0.12" >WT</text>
<line x1="289.70" y1="635.57" x2="292.30" y2="635.57" stroke="#1a1a1a" stroke-width="0.9" />
<text x="288.00" y="638.87" font-size="9.3" text-anchor="end" fill="#111" stroke="#111" stroke-width="0.12" >C6</text>
<line x1="289.70" y1="654.42" x2="292.30" y2="654.42" stroke="#1a1a1a" stroke-width="0.9" />
<text x="288.00" y="657.72" font-size="9.3" text-anchor="end" fill="#111" stroke="#111" stroke-width="0.12" >C9</text>
<line x1="289.70" y1="673.27" x2="292.30" y2="673.27" stroke="#1a1a1a" stroke-width="0.9" />
<text x="288.00" y="676.57" font-size="9.3" text-anchor="end" fill="#111" stroke="#111" stroke-width="0.12" >C48</text>
<line x1="289.70" y1="692.12" x2="292.30" y2="692.12" stroke="#1a1a1a" stroke-width="0.9" />
<text x="288.00" y="695.42" font-size="9.3" text-anchor="end" fill="#111" stroke="#111" stroke-width="0.12" >C74</text>
<line x1="289.70" y1="710.97" x2="292.30" y2="710.97" stroke="#1a1a1a" stroke-width="0.9" />
<text x="288.00" y="714.27" font-size="9.3" text-anchor="end" fill="#111" stroke="#111" stroke-width="0.12" >mis</text>
<line x1="301.70" y1="720.40" x2="301.70" y2="723.00" stroke="#1a1a1a" stroke-width="0.9" />
<text x="301.70" y="733.00" font-size="9.3" text-anchor="middle" fill="#111" stroke="#111" stroke-width="0.12" >WT</text>
<line x1="320.50" y1="720.40" x2="320.50" y2="723.00" stroke="#1a1a1a" stroke-width="0.9" />
<text x="320.50" y="733.00" font-size="9.3" text-anchor="middle" fill="#111" stroke="#111" stroke-width="0.12" >C6</text>
<line x1="339.30" y1="720.40" x2="339.30" y2="723.00" stroke="#1a1a1a" stroke-width="0.9" />
<text x="339.30" y="733.00" font-size="9.3" text-anchor="middle" fill="#111" stroke="#111" stroke-width="0.12" >C9</text>
<line x1="358.10" y1="720.40" x2="358.10" y2="723.00" stroke="#1a1a1a" stroke-width="0.9" />
<text x="358.10" y="733.00" font-size="9.3" text-anchor="middle" fill="#111" stroke="#111" stroke-width="0.12" >C48</text>
<line x1="376.90" y1="720.40" x2="376.90" y2="723.00" stroke="#1a1a1a" stroke-width="0.9" />
<text x="376.90" y="733.00" font-size="9.3" text-anchor="middle" fill="#111" stroke="#111" stroke-width="0.12" >C74</text>
<text transform="translate(265.80,659.00) rotate(-90)" font-size="9.3" text-anchor="middle" fill="#111" stroke="#111" stroke-width="0.12" >crRNA (s)</text>
<text x="340.30" y="747.80" font-size="9.3" text-anchor="middle" fill="#111" stroke="#111" stroke-width="0.12" >tracrRNA (s)</text>
<defs><linearGradient id="gH" x1="0" y1="1" x2="0" y2="0"><stop offset="0" stop-color="rgb(10, 0, 190)"/><stop offset="0.35" stop-color="rgb(70, 0, 150)"/><stop offset="0.6" stop-color="rgb(130, 0, 100)"/><stop offset="0.8" stop-color="rgb(190, 0, 55)"/><stop offset="1.0" stop-color="rgb(255, 0, 0)"/></linearGradient></defs>
<rect x="395.60" y="607.30" width="9.60" height="113.10" fill="url(#gH)" stroke="#1a1a1a" stroke-width="0.8" />
<line x1="403.20" y1="720.40" x2="405.20" y2="720.40" stroke="#1a1a1a" stroke-width="0.9" />
<text x="409.80" y="723.70" font-size="9.3" text-anchor="start" fill="#111" stroke="#111" stroke-width="0.12" >0</text>
<line x1="403.20" y1="697.78" x2="405.20" y2="697.78" stroke="#1a1a1a" stroke-width="0.9" />
<line x1="395.60" y1="697.78" x2="397.40" y2="697.78" stroke="#1a1a1a" stroke-width="0.9" />
<text x="409.80" y="701.08" font-size="9.3" text-anchor="start" fill="#111" stroke="#111" stroke-width="0.12" >2,000</text>
<line x1="403.20" y1="675.16" x2="405.20" y2="675.16" stroke="#1a1a1a" stroke-width="0.9" />
<line x1="395.60" y1="675.16" x2="397.40" y2="675.16" stroke="#1a1a1a" stroke-width="0.9" />
<text x="409.80" y="678.46" font-size="9.3" text-anchor="start" fill="#111" stroke="#111" stroke-width="0.12" >4,000</text>
<line x1="403.20" y1="652.54" x2="405.20" y2="652.54" stroke="#1a1a1a" stroke-width="0.9" />
<line x1="395.60" y1="652.54" x2="397.40" y2="652.54" stroke="#1a1a1a" stroke-width="0.9" />
<text x="409.80" y="655.84" font-size="9.3" text-anchor="start" fill="#111" stroke="#111" stroke-width="0.12" >6,000</text>
<line x1="403.20" y1="629.92" x2="405.20" y2="629.92" stroke="#1a1a1a" stroke-width="0.9" />
<line x1="395.60" y1="629.92" x2="397.40" y2="629.92" stroke="#1a1a1a" stroke-width="0.9" />
<text x="409.80" y="633.22" font-size="9.3" text-anchor="start" fill="#111" stroke="#111" stroke-width="0.12" >8,000</text>
<line x1="403.20" y1="607.30" x2="405.20" y2="607.30" stroke="#1a1a1a" stroke-width="0.9" />
<text x="409.80" y="610.60" font-size="9.3" text-anchor="start" fill="#111" stroke="#111" stroke-width="0.12" >10,000</text>
<text transform="translate(456.30,665.90) rotate(-90)" font-size="9.85" text-anchor="middle" fill="#111" stroke="#111" stroke-width="0.12" >Fluorescence /<tspan font-style="italic"> A</tspan><tspan font-style="italic" font-size="6.9" dy="1.5">600</tspan><tspan dy="-1.5"> (a.u.)</tspan></text>
<text x="468.60" y="574.80" font-size="16.5" text-anchor="start" fill="#000" >i</text>
<rect x="526.40" y="606.40" width="23.45" height="23.34" fill="#d5001f" stroke="none" stroke-width="1" shape-rendering="crispEdges"/>
<rect x="549.55" y="606.40" width="23.45" height="23.34" fill="#1a00b0" stroke="none" stroke-width="1" shape-rendering="crispEdges"/>
<rect x="572.70" y="606.40" width="23.45" height="23.34" fill="#1400b4" stroke="none" stroke-width="1" shape-rendering="crispEdges"/>
<rect x="595.85" y="606.40" width="23.45" height="23.34" fill="#0f00b8" stroke="none" stroke-width="1" shape-rendering="crispEdges"/>
<rect x="526.40" y="629.44" width="23.45" height="23.34" fill="#5c0074" stroke="none" stroke-width="1" shape-rendering="crispEdges"/>
<rect x="549.55" y="629.44" width="23.45" height="23.34" fill="#1000b8" stroke="none" stroke-width="1" shape-rendering="crispEdges"/>
<rect x="572.70" y="629.44" width="23.45" height="23.34" fill="#0e00ba" stroke="none" stroke-width="1" shape-rendering="crispEdges"/>
<rect x="595.85" y="629.44" width="23.45" height="23.34" fill="#0c00bc" stroke="none" stroke-width="1" shape-rendering="crispEdges"/>
<rect x="526.40" y="652.48" width="23.45" height="23.34" fill="#35009a" stroke="none" stroke-width="1" shape-rendering="crispEdges"/>
<rect x="549.55" y="652.48" width="23.45" height="23.34" fill="#1000b8" stroke="none" stroke-width="1" shape-rendering="crispEdges"/>
<rect x="572.70" y="652.48" width="23.45" height="23.34" fill="#1100b6" stroke="none" stroke-width="1" shape-rendering="crispEdges"/>
<rect x="595.85" y="652.48" width="23.45" height="23.34" fill="#0c00bc" stroke="none" stroke-width="1" shape-rendering="crispEdges"/>
<rect x="526.40" y="675.52" width="23.45" height="23.34" fill="#ee000c" stroke="none" stroke-width="1" shape-rendering="crispEdges"/>
<rect x="549.55" y="675.52" width="23.45" height="23.34" fill="#1500b2" stroke="none" stroke-width="1" shape-rendering="crispEdges"/>
<rect x="572.70" y="675.52" width="23.45" height="23.34" fill="#1200b4" stroke="none" stroke-width="1" shape-rendering="crispEdges"/>
<rect x="595.85" y="675.52" width="23.45" height="23.34" fill="#0c00bc" stroke="none" stroke-width="1" shape-rendering="crispEdges"/>
<rect x="526.40" y="698.56" width="23.45" height="23.34" fill="#7a0052" stroke="none" stroke-width="1" shape-rendering="crispEdges"/>
<rect x="549.55" y="698.56" width="23.45" height="23.34" fill="#1300b4" stroke="none" stroke-width="1" shape-rendering="crispEdges"/>
<rect x="572.70" y="698.56" width="23.45" height="23.34" fill="#1000b6" stroke="none" stroke-width="1" shape-rendering="crispEdges"/>
<rect x="595.85" y="698.56" width="23.45" height="23.34" fill="#0c00bc" stroke="none" stroke-width="1" shape-rendering="crispEdges"/>
<rect x="526.40" y="606.40" width="92.60" height="115.20" fill="none" stroke="#1a1a1a" stroke-width="1" />
<line x1="523.80" y1="617.92" x2="526.40" y2="617.92" stroke="#1a1a1a" stroke-width="0.9" />
<text x="519.80" y="621.22" font-size="9.3" text-anchor="end" fill="#111" stroke="#111" stroke-width="0.12" >WT</text>
<line x1="523.80" y1="640.96" x2="526.40" y2="640.96" stroke="#1a1a1a" stroke-width="0.9" />
<text x="519.80" y="644.26" font-size="9.3" text-anchor="end" fill="#111" stroke="#111" stroke-width="0.12" >C6</text>
<line x1="523.80" y1="664.00" x2="526.40" y2="664.00" stroke="#1a1a1a" stroke-width="0.9" />
<text x="519.80" y="667.30" font-size="9.3" text-anchor="end" fill="#111" stroke="#111" stroke-width="0.12" >C9</text>
<line x1="523.80" y1="687.04" x2="526.40" y2="687.04" stroke="#1a1a1a" stroke-width="0.9" />
<text x="519.80" y="690.34" font-size="9.3" text-anchor="end" fill="#111" stroke="#111" stroke-width="0.12" >C48</text>
<line x1="523.80" y1="710.08" x2="526.40" y2="710.08" stroke="#1a1a1a" stroke-width="0.9" />
<text x="519.80" y="713.38" font-size="9.3" text-anchor="end" fill="#111" stroke="#111" stroke-width="0.12" >C74</text>
<line x1="537.98" y1="721.60" x2="537.98" y2="724.20" stroke="#1a1a1a" stroke-width="0.9" />
<text x="537.98" y="734.60" font-size="8.6" text-anchor="middle" fill="#111" stroke="#111" stroke-width="0.12" >+</text>
<text x="537.98" y="747.60" font-size="8.6" text-anchor="middle" fill="#111" stroke="#111" stroke-width="0.12" >+</text>
<line x1="561.12" y1="721.60" x2="561.12" y2="724.20" stroke="#1a1a1a" stroke-width="0.9" />
<text x="561.12" y="734.60" font-size="8.6" text-anchor="middle" fill="#111" stroke="#111" stroke-width="0.12" >+</text>
<text x="561.12" y="747.60" font-size="8.6" text-anchor="middle" fill="#111" stroke="#111" stroke-width="0.12" >–</text>
<line x1="584.27" y1="721.60" x2="584.27" y2="724.20" stroke="#1a1a1a" stroke-width="0.9" />
<text x="584.27" y="734.60" font-size="8.6" text-anchor="middle" fill="#111" stroke="#111" stroke-width="0.12" >–</text>
<text x="584.27" y="747.60" font-size="8.6" text-anchor="middle" fill="#111" stroke="#111" stroke-width="0.12" >+</text>
<line x1="607.42" y1="721.60" x2="607.42" y2="724.20" stroke="#1a1a1a" stroke-width="0.9" />
<text x="607.42" y="734.60" font-size="8.6" text-anchor="middle" fill="#111" stroke="#111" stroke-width="0.12" >–</text>
<text x="607.42" y="747.60" font-size="8.6" text-anchor="middle" fill="#111" stroke="#111" stroke-width="0.12" >–</text>
<text x="477.00" y="734.90" font-size="9.3" text-anchor="start" fill="#111" stroke="#111" stroke-width="0.12" >crRNA (s)</text>
<text x="477.00" y="748.00" font-size="9.3" text-anchor="start" fill="#111" stroke="#111" stroke-width="0.12" >tracrRNA (s)</text>
<rect x="628.70" y="606.40" width="9.60" height="115.20" fill="url(#gH)" stroke="#1a1a1a" stroke-width="0.8" />
<line x1="636.30" y1="721.60" x2="638.30" y2="721.60" stroke="#1a1a1a" stroke-width="0.9" />
<text x="641.80" y="724.90" font-size="9.3" text-anchor="start" fill="#111" stroke="#111" stroke-width="0.12" >0</text>
<line x1="636.30" y1="698.56" x2="638.30" y2="698.56" stroke="#1a1a1a" stroke-width="0.9" />
<line x1="628.70" y1="698.56" x2="630.50" y2="698.56" stroke="#1a1a1a" stroke-width="0.9" />
<text x="641.80" y="701.86" font-size="9.3" text-anchor="start" fill="#111" stroke="#111" stroke-width="0.12" >2,000</text>
<line x1="636.30" y1="675.52" x2="638.30" y2="675.52" stroke="#1a1a1a" stroke-width="0.9" />
<line x1="628.70" y1="675.52" x2="630.50" y2="675.52" stroke="#1a1a1a" stroke-width="0.9" />
<text x="641.80" y="678.82" font-size="9.3" text-anchor="start" fill="#111" stroke="#111" stroke-width="0.12" >4,000</text>
<line x1="636.30" y1="652.48" x2="638.30" y2="652.48" stroke="#1a1a1a" stroke-width="0.9" />
<line x1="628.70" y1="652.48" x2="630.50" y2="652.48" stroke="#1a1a1a" stroke-width="0.9" />
<text x="641.80" y="655.78" font-size="9.3" text-anchor="start" fill="#111" stroke="#111" stroke-width="0.12" >6,000</text>
<line x1="636.30" y1="629.44" x2="638.30" y2="629.44" stroke="#1a1a1a" stroke-width="0.9" />
<line x1="628.70" y1="629.44" x2="630.50" y2="629.44" stroke="#1a1a1a" stroke-width="0.9" />
<text x="641.80" y="632.74" font-size="9.3" text-anchor="start" fill="#111" stroke="#111" stroke-width="0.12" >8,000</text>
<line x1="636.30" y1="606.40" x2="638.30" y2="606.40" stroke="#1a1a1a" stroke-width="0.9" />
<text x="641.80" y="609.70" font-size="9.3" text-anchor="start" fill="#111" stroke="#111" stroke-width="0.12" >10,000</text>
<text transform="translate(683.50,666.00) rotate(-90)" font-size="9.85" text-anchor="middle" fill="#111" stroke="#111" stroke-width="0.12" >Fluorescence /<tspan font-style="italic"> A</tspan><tspan font-style="italic" font-size="6.9" dy="1.5">600</tspan><tspan dy="-1.5"> (a.u.)</tspan></text>
<g transform="translate(526.40,577.40) scale(1.000,1.000)" fill="#dce8f5"><ellipse cx="10" cy="8.2" rx="10" ry="8.2"/><ellipse cx="11.2" cy="14" rx="7.8" ry="6"/></g>
<g transform="translate(550.50,583.20) scale(1.000,1.000)" fill="#dce8f5"><ellipse cx="10" cy="8.2" rx="10" ry="8.2"/><ellipse cx="11.2" cy="14" rx="7.8" ry="6"/></g>
<g transform="translate(573.80,583.20) scale(1.000,1.000)" fill="#dce8f5"><ellipse cx="10" cy="8.2" rx="10" ry="8.2"/><ellipse cx="11.2" cy="14" rx="7.8" ry="6"/></g>
<g transform="translate(597.20,583.20) scale(1.000,1.000)" fill="#dce8f5"><ellipse cx="10" cy="8.2" rx="10" ry="8.2"/><ellipse cx="11.2" cy="14" rx="7.8" ry="6"/></g>
<line x1="527.20" y1="584.40" x2="537.20" y2="584.40" stroke="#9b6bc6" stroke-width="1.0" />
<line x1="537.20" y1="584.40" x2="545.80" y2="584.40" stroke="#b8b8b8" stroke-width="1.0" />
<path d="M545.4,586.4 L534.6,586.4 A1.1,1.1 0 0 0 534.6,588.6 L544.2,588.6 A1.05,1.05 0 0 1 544.2,590.7 L537.4,590.7 L537.4,599.8" stroke="#b8b8b8" stroke-width="0.9" fill="none" />
<path d="M537.6,592.0 A1.1,1.1 0 0 1 537.6,594.2" stroke="#29a8e2" stroke-width="1.0" fill="none" />
<path d="M537.6,594.6 A1.1,1.1 0 0 1 537.6,596.8000000000001" stroke="#29a8e2" stroke-width="1.0" fill="none" />
<path d="M537.6,597.2 A1.1,1.1 0 0 1 537.6,599.4000000000001" stroke="#29a8e2" stroke-width="1.0" fill="none" />
<line x1="551.70" y1="581.40" x2="561.30" y2="581.40" stroke="#9b6bc6" stroke-width="1.0" />
<line x1="561.30" y1="581.40" x2="570.80" y2="581.40" stroke="#b8b8b8" stroke-width="1.0" />
<path d="M590.3,575.6 L578.4,575.6 A1.2,1.2 0 0 0 578.4,578.0 L588.8,578.0 A1.0,1.0 0 0 1 588.8,580.0 L584.0,580.0 L584.0,589.5" stroke="#b8b8b8" stroke-width="0.9" fill="none" />
<path d="M584.2,581.0 A1.15,1.15 0 0 1 584.2,583.3" stroke="#29a8e2" stroke-width="1.0" fill="none" />
<path d="M584.2,583.8 A1.15,1.15 0 0 1 584.2,586.0999999999999" stroke="#29a8e2" stroke-width="1.0" fill="none" />
<path d="M584.2,586.6 A1.15,1.15 0 0 1 584.2,588.9" stroke="#29a8e2" stroke-width="1.0" fill="none" />
<text x="-0.50" y="572.30" font-size="16.5" text-anchor="start" fill="#000" >g</text>
<line x1="68.10" y1="581.60" x2="68.10" y2="725.70" stroke="#1a1a1a" stroke-width="1" />
<line x1="64.10" y1="725.20" x2="68.10" y2="725.20" stroke="#1a1a1a" stroke-width="1" />
<text x="64.00" y="728.50" font-size="9.3" text-anchor="end" fill="#111" stroke="#111" stroke-width="0.12" >0.0</text>
<line x1="64.10" y1="677.40" x2="68.10" y2="677.40" stroke="#1a1a1a" stroke-width="1" />
<text x="64.00" y="680.70" font-size="9.3" text-anchor="end" fill="#111" stroke="#111" stroke-width="0.12" >0.4</text>
<line x1="64.10" y1="629.60" x2="68.10" y2="629.60" stroke="#1a1a1a" stroke-width="1" />
<text x="64.00" y="632.90" font-size="9.3" text-anchor="end" fill="#111" stroke="#111" stroke-width="0.12" >0.8</text>
<line x1="64.10" y1="581.80" x2="68.10" y2="581.80" stroke="#1a1a1a" stroke-width="1" />
<text x="64.00" y="585.10" font-size="9.3" text-anchor="end" fill="#111" stroke="#111" stroke-width="0.12" >1.2</text>
<text transform="translate(29.60,647.30) rotate(-90)" font-size="9.85" text-anchor="middle" fill="#111" stroke="#111" stroke-width="0.12" >Fluorescence /<tspan font-style="italic"> A</tspan><tspan font-style="italic" font-size="6.9" dy="1.5">600</tspan><tspan dy="-1.5"> (a.u.)</tspan></text>
<line x1="67.60" y1="725.20" x2="207.20" y2="725.20" stroke="#1a1a1a" stroke-width="1" />
<rect x="73.00" y="606.54" width="8.80" height="118.66" fill="#ffffff" stroke="#1a1a1a" stroke-width="1" />
<line x1="77.40" y1="600.80" x2="77.40" y2="606.54" stroke="#1a1a1a" stroke-width="0.7" />
<line x1="76.10" y1="600.80" x2="78.70" y2="600.80" stroke="#1a1a1a" stroke-width="0.7" />
<circle cx="77.40" cy="600.80" r="1.25" fill="#111" stroke="none" stroke-width="1" />
<circle cx="77.40" cy="606.30" r="1.25" fill="#111" stroke="none" stroke-width="1" />
<circle cx="77.40" cy="610.36" r="1.25" fill="#111" stroke="none" stroke-width="1" />
<rect x="86.70" y="614.30" width="8.80" height="110.90" fill="#c9dcf2" stroke="#1a1a1a" stroke-width="1" />
<line x1="91.10" y1="606.30" x2="91.10" y2="614.30" stroke="#1a1a1a" stroke-width="0.7" />
<line x1="89.80" y1="606.30" x2="92.40" y2="606.30" stroke="#1a1a1a" stroke-width="0.7" />
<circle cx="91.10" cy="606.30" r="1.25" fill="#111" stroke="none" stroke-width="1" />
<circle cx="89.80" cy="617.77" r="1.25" fill="#111" stroke="none" stroke-width="1" />
<circle cx="92.40" cy="617.77" r="1.25" fill="#111" stroke="none" stroke-width="1" />
<line x1="84.25" y1="725.20" x2="84.25" y2="728.00" stroke="#1a1a1a" stroke-width="1" />
<rect x="109.90" y="717.43" width="8.80" height="7.77" fill="#ffffff" stroke="#1a1a1a" stroke-width="1" />
<circle cx="111.70" cy="717.31" r="1.25" fill="#111" stroke="none" stroke-width="1" />
<circle cx="114.30" cy="716.84" r="1.25" fill="#111" stroke="none" stroke-width="1" />
<circle cx="116.90" cy="717.55" r="1.25" fill="#111" stroke="none" stroke-width="1" />
<rect x="123.60" y="717.79" width="8.80" height="7.41" fill="#c9dcf2" stroke="#1a1a1a" stroke-width="1" />
<circle cx="126.70" cy="717.07" r="1.25" fill="#111" stroke="none" stroke-width="1" />
<circle cx="128.00" cy="718.03" r="1.25" fill="#111" stroke="none" stroke-width="1" />
<circle cx="129.30" cy="718.63" r="1.25" fill="#111" stroke="none" stroke-width="1" />
<line x1="121.15" y1="725.20" x2="121.15" y2="728.00" stroke="#1a1a1a" stroke-width="1" />
<rect x="147.50" y="672.62" width="8.80" height="52.58" fill="#ffffff" stroke="#1a1a1a" stroke-width="1" />
<line x1="151.90" y1="670.23" x2="151.90" y2="672.62" stroke="#1a1a1a" stroke-width="0.7" />
<line x1="150.60" y1="670.23" x2="153.20" y2="670.23" stroke="#1a1a1a" stroke-width="0.7" />
<circle cx="151.90" cy="669.63" r="1.25" fill="#111" stroke="none" stroke-width="1" />
<circle cx="150.60" cy="673.82" r="1.25" fill="#111" stroke="none" stroke-width="1" />
<circle cx="153.20" cy="673.22" r="1.25" fill="#111" stroke="none" stroke-width="1" />
<rect x="161.20" y="704.88" width="8.80" height="20.32" fill="#c9dcf2" stroke="#1a1a1a" stroke-width="1" />
<circle cx="163.00" cy="704.29" r="1.25" fill="#111" stroke="none" stroke-width="1" />
<circle cx="165.60" cy="704.88" r="1.25" fill="#111" stroke="none" stroke-width="1" />
<circle cx="168.20" cy="705.12" r="1.25" fill="#111" stroke="none" stroke-width="1" />
<line x1="158.75" y1="725.20" x2="158.75" y2="728.00" stroke="#1a1a1a" stroke-width="1" />
<rect x="183.80" y="720.42" width="8.80" height="4.78" fill="#ffffff" stroke="#1a1a1a" stroke-width="1" />
<circle cx="185.60" cy="720.42" r="1.25" fill="#111" stroke="none" stroke-width="1" />
<circle cx="188.20" cy="720.18" r="1.25" fill="#111" stroke="none" stroke-width="1" />
<circle cx="190.80" cy="720.42" r="1.25" fill="#111" stroke="none" stroke-width="1" />
<rect x="197.50" y="721.38" width="8.80" height="3.82" fill="#c9dcf2" stroke="#1a1a1a" stroke-width="1" />
<circle cx="199.30" cy="721.26" r="1.25" fill="#111" stroke="none" stroke-width="1" />
<circle cx="201.90" cy="721.62" r="1.25" fill="#111" stroke="none" stroke-width="1" />
<circle cx="204.50" cy="721.14" r="1.25" fill="#111" stroke="none" stroke-width="1" />
<line x1="195.05" y1="725.20" x2="195.05" y2="728.00" stroke="#1a1a1a" stroke-width="1" />
<text x="15.80" y="736.30" font-size="9.3" text-anchor="start" fill="#111" stroke="#111" stroke-width="0.12" >crRNA</text>
<text x="15.80" y="748.00" font-size="9.3" text-anchor="start" fill="#111" stroke="#111" stroke-width="0.12" >tracrRNA</text>
<text x="84.25" y="736.00" font-size="8.6" text-anchor="middle" fill="#111" stroke="#111" stroke-width="0.12" >+</text>
<text x="84.25" y="747.60" font-size="8.6" text-anchor="middle" fill="#111" stroke="#111" stroke-width="0.12" >+</text>
<text x="121.15" y="736.00" font-size="8.6" text-anchor="middle" fill="#111" stroke="#111" stroke-width="0.12" >–</text>
<text x="121.15" y="747.60" font-size="8.6" text-anchor="middle" fill="#111" stroke="#111" stroke-width="0.12" >+</text>
<text x="158.75" y="736.00" font-size="8.6" text-anchor="middle" fill="#111" stroke="#111" stroke-width="0.12" >+</text>
<text x="158.75" y="747.60" font-size="8.6" text-anchor="middle" fill="#111" stroke="#111" stroke-width="0.12" >–</text>
<text x="195.05" y="736.00" font-size="8.6" text-anchor="middle" fill="#111" stroke="#111" stroke-width="0.12" >–</text>
<text x="195.05" y="747.60" font-size="8.6" text-anchor="middle" fill="#111" stroke="#111" stroke-width="0.12" >–</text>
<text x="182.20" y="590.60" font-size="9.45" text-anchor="middle" fill="#111" stroke="#111" stroke-width="0.12" >crRNA / tracrRNA</text>
<rect x="166.00" y="599.60" width="7.00" height="5.00" fill="#ffffff" stroke="#1a1a1a" stroke-width="1" />
<text x="178.00" y="605.40" font-size="9.3" text-anchor="start" fill="#111" stroke="#111" stroke-width="0.12" >WT</text>
<rect x="166.00" y="611.10" width="7.00" height="5.00" fill="#c9dcf2" stroke="#1a1a1a" stroke-width="1" />
<text x="178.00" y="616.40" font-size="9.3" text-anchor="start" fill="#111" stroke="#111" stroke-width="0.12" >sWT</text>
<text x="-1.20" y="235.60" font-size="16.5" text-anchor="start" fill="#000" >b</text>
<line x1="26.30" y1="279.60" x2="114.30" y2="279.60" stroke="#1a1a1a" stroke-width="1.3" />
<line x1="33.50" y1="279.60" x2="33.50" y2="286.60" stroke="#1a1a1a" stroke-width="1.3" />
<line x1="29.30" y1="286.60" x2="37.70" y2="286.60" stroke="#1a1a1a" stroke-width="1.3" />
<polygon points="37.50,279.60 42.10,275.30 50.20,275.30 50.20,284.10 42.10,284.10" fill="#d2d2d2" stroke="#1a1a1a" stroke-width="1.2" stroke-linejoin="round"/>
<path d="M53.80,279.60 A4.00,4.00 0 0 0 61.80,279.60 Z" stroke="#1a1a1a" stroke-width="1.2" fill="#ffffff" />
<path d="M72.30,279.60 L72.30,286.50 L65.10,286.50" stroke="#1a1a1a" stroke-width="1.2" fill="none" />
<polygon points="64.30,286.50 66.90,284.29 65.86,286.50 66.90,288.71" fill="#1a1a1a" stroke="#1a1a1a" stroke-width="0.50" stroke-linejoin="miter"/>
<path d="M74.30,279.60 L74.30,274.00 L82.00,274.00" stroke="#1a1a1a" stroke-width="1.2" fill="none" />
<polygon points="82.80,274.00 80.20,271.79 81.24,274.00 80.20,276.21" fill="#1a1a1a" stroke="#1a1a1a" stroke-width="0.50" stroke-linejoin="miter"/>
<path d="M84.80,282.20 L84.80,277.60 L85.55,277.60 A1.93,2.03 0 0 1 89.42,277.60 L90.92,277.60 A1.93,2.03 0 0 1 94.78,277.60 L96.28,277.60 A1.93,2.03 0 0 1 100.15,277.60 L100.90,277.60 L100.90,282.20 Z" stroke="#1a1a1a" stroke-width="1.2" fill="#a8938f" stroke-linejoin="round"/>
<line x1="108.00" y1="279.60" x2="108.00" y2="272.60" stroke="#1a1a1a" stroke-width="1.3" />
<line x1="104.00" y1="272.60" x2="112.00" y2="272.60" stroke="#1a1a1a" stroke-width="1.3" />
<path d="M46.00,275.40 L46.00,263.10 L78.20,263.10 L78.20,268.80" stroke="#1a1a1a" stroke-width="1.2" fill="none" />
<polygon points="78.2,269.8 75.905,267.1 78.2,268.18 80.495,267.1" fill="#1a1a1a" stroke="#1a1a1a" stroke-width="0.50"/>
<line x1="62.60" y1="245.20" x2="62.60" y2="258.00" stroke="#1a1a1a" stroke-width="1.2" />
<polygon points="62.6,259.0 60.305,256.3 62.6,257.38 64.895,256.3" fill="#1a1a1a" stroke="#1a1a1a" stroke-width="0.50"/>
<text x="62.60" y="243.20" font-size="9.3" text-anchor="middle" fill="#111" stroke="#111" stroke-width="0.12" >AHL</text>
<text x="85.60" y="268.40" font-size="9.3" text-anchor="start" fill="#111" stroke="#111" stroke-width="0.12" >crRNA/sgRNA</text>
<text x="39.50" y="292.40" font-size="9.3" text-anchor="start" fill="#111" stroke="#111" stroke-width="0.12" font-style="italic">luxR</text>
<line x1="92.30" y1="285.60" x2="92.30" y2="296.40" stroke="#1a1a1a" stroke-width="1.2" />
<line x1="135.30" y1="279.60" x2="223.30" y2="279.60" stroke="#1a1a1a" stroke-width="1.3" />
<line x1="142.50" y1="279.60" x2="142.50" y2="286.60" stroke="#1a1a1a" stroke-width="1.3" />
<line x1="138.30" y1="286.60" x2="146.70" y2="286.60" stroke="#1a1a1a" stroke-width="1.3" />
<polygon points="146.50,279.60 151.10,275.30 159.20,275.30 159.20,284.10 151.10,284.10" fill="#d2d2d2" stroke="#1a1a1a" stroke-width="1.2" stroke-linejoin="round"/>
<path d="M162.80,279.60 A4.00,4.00 0 0 0 170.80,279.60 Z" stroke="#1a1a1a" stroke-width="1.2" fill="#ffffff" />
<path d="M181.30,279.60 L181.30,286.50 L174.10,286.50" stroke="#1a1a1a" stroke-width="1.2" fill="none" />
<polygon points="173.30,286.50 175.90,284.29 174.86,286.50 175.90,288.71" fill="#1a1a1a" stroke="#1a1a1a" stroke-width="0.50" stroke-linejoin="miter"/>
<path d="M183.30,279.60 L183.30,274.00 L191.00,274.00" stroke="#1a1a1a" stroke-width="1.2" fill="none" />
<polygon points="191.80,274.00 189.20,271.79 190.24,274.00 189.20,276.21" fill="#1a1a1a" stroke="#1a1a1a" stroke-width="0.50" stroke-linejoin="miter"/>
<path d="M193.80,282.20 L193.80,277.60 L194.55,277.60 A1.93,2.03 0 0 1 198.42,277.60 L199.92,277.60 A1.93,2.03 0 0 1 203.78,277.60 L205.28,277.60 A1.93,2.03 0 0 1 209.15,277.60 L209.90,277.60 L209.90,282.20 Z" stroke="#1a1a1a" stroke-width="1.2" fill="#a8938f" stroke-linejoin="round"/>
<line x1="217.00" y1="279.60" x2="217.00" y2="272.60" stroke="#1a1a1a" stroke-width="1.3" />
<line x1="213.00" y1="272.60" x2="221.00" y2="272.60" stroke="#1a1a1a" stroke-width="1.3" />
<path d="M155.00,275.40 L155.00,263.10 L187.40,263.10 L187.40,268.80" stroke="#1a1a1a" stroke-width="1.2" fill="none" />
<polygon points="187.4,269.8 185.10500000000002,267.1 187.4,268.18 189.695,267.1" fill="#1a1a1a" stroke="#1a1a1a" stroke-width="0.50"/>
<line x1="171.40" y1="245.20" x2="171.40" y2="258.00" stroke="#1a1a1a" stroke-width="1.2" />
<polygon points="171.4,259.0 169.10500000000002,256.3 171.4,257.38 173.695,256.3" fill="#1a1a1a" stroke="#1a1a1a" stroke-width="0.50"/>
<text x="171.40" y="243.20" font-size="9.3" text-anchor="middle" fill="#111" stroke="#111" stroke-width="0.12" >Arabinose</text>
<text x="195.80" y="268.40" font-size="9.3" text-anchor="start" fill="#111" stroke="#111" stroke-width="0.12" >tracrRNA</text>
<text x="148.80" y="292.40" font-size="9.3" text-anchor="start" fill="#111" stroke="#111" stroke-width="0.12" font-style="italic">araC</text>
<line x1="202.00" y1="285.60" x2="202.00" y2="296.40" stroke="#1a1a1a" stroke-width="1.2" />
<line x1="243.00" y1="279.60" x2="446.40" y2="279.60" stroke="#1a1a1a" stroke-width="1.3" />
<line x1="249.20" y1="279.60" x2="249.20" y2="286.60" stroke="#1a1a1a" stroke-width="1.3" />
<line x1="245.00" y1="286.60" x2="253.40" y2="286.60" stroke="#1a1a1a" stroke-width="1.3" />
<polygon points="256.00,279.60 260.60,275.30 269.00,275.30 269.00,284.10 260.60,284.10" fill="#d9e4f4" stroke="#1a1a1a" stroke-width="1.2" stroke-linejoin="round"/>
<path d="M275.60,279.60 A4.00,4.00 0 0 0 283.60,279.60 Z" stroke="#1a1a1a" stroke-width="1.2" fill="#ffffff" />
<path d="M294.60,279.60 L294.60,286.50 L287.40,286.50" stroke="#1a1a1a" stroke-width="1.2" fill="none" />
<polygon points="286.60,286.50 289.20,284.29 288.16,286.50 289.20,288.71" fill="#1a1a1a" stroke="#1a1a1a" stroke-width="0.50" stroke-linejoin="miter"/>
<path d="M297.30,279.60 L297.30,274.00 L305.00,274.00" stroke="#1a1a1a" stroke-width="1.2" fill="none" />
<polygon points="305.80,274.00 303.20,271.79 304.24,274.00 303.20,276.21" fill="#1a1a1a" stroke="#1a1a1a" stroke-width="0.50" stroke-linejoin="miter"/>
<path d="M307.00,279.60 A4.00,4.00 0 0 1 315.00,279.60 Z" stroke="#1a1a1a" stroke-width="1.2" fill="#ffffff" />
<polygon points="331.40,279.60 326.80,275.30 318.30,275.30 318.30,284.10 326.80,284.10" fill="#d2d2d2" stroke="#1a1a1a" stroke-width="1.2" stroke-linejoin="round"/>
<line x1="336.70" y1="279.60" x2="336.70" y2="272.60" stroke="#1a1a1a" stroke-width="1.3" />
<line x1="332.70" y1="272.60" x2="340.70" y2="272.60" stroke="#1a1a1a" stroke-width="1.3" />
<path d="M343.00,279.60 L343.00,274.00 L350.70,274.00" stroke="#1a1a1a" stroke-width="1.2" fill="none" />
<polygon points="351.50,274.00 348.90,271.79 349.94,274.00 348.90,276.21" fill="#1a1a1a" stroke="#1a1a1a" stroke-width="0.50" stroke-linejoin="miter"/>
<path d="M354.20,279.60 A4.00,4.00 0 0 1 362.20,279.60 Z" stroke="#1a1a1a" stroke-width="1.2" fill="#ffffff" />
<polygon points="380.60,279.60 376.00,275.30 367.40,275.30 367.40,284.10 376.00,284.10" fill="#ee7d2b" stroke="#1a1a1a" stroke-width="1.2" stroke-linejoin="round"/>
<line x1="386.40" y1="279.60" x2="386.40" y2="272.60" stroke="#1a1a1a" stroke-width="1.3" />
<line x1="382.40" y1="272.60" x2="390.40" y2="272.60" stroke="#1a1a1a" stroke-width="1.3" />
<path d="M395.80,279.60 L395.80,274.00 L403.50,274.00" stroke="#1a1a1a" stroke-width="1.2" fill="none" />
<polygon points="404.30,274.00 401.70,271.79 402.74,274.00 401.70,276.21" fill="#1a1a1a" stroke="#1a1a1a" stroke-width="0.50" stroke-linejoin="miter"/>
<path d="M406.00,279.60 A4.00,4.00 0 0 1 414.00,279.60 Z" stroke="#1a1a1a" stroke-width="1.2" fill="#ffffff" />
<polygon points="431.00,279.60 426.40,275.30 417.20,275.30 417.20,284.10 426.40,284.10" fill="#6db33f" stroke="#1a1a1a" stroke-width="1.2" stroke-linejoin="round"/>
<line x1="438.10" y1="279.60" x2="438.10" y2="272.60" stroke="#1a1a1a" stroke-width="1.3" />
<line x1="434.10" y1="272.60" x2="442.10" y2="272.60" stroke="#1a1a1a" stroke-width="1.3" />
<path d="M323.50,275.40 L323.50,264.00 L290.70,264.00 L290.70,275.20" stroke="#1a1a1a" stroke-width="1.2" fill="none" />
<polygon points="290.7,276.2 288.405,273.5 290.7,274.58 292.995,273.5" fill="#1a1a1a" stroke="#1a1a1a" stroke-width="0.50"/>
<line x1="307.20" y1="245.20" x2="307.20" y2="258.00" stroke="#1a1a1a" stroke-width="1.2" />
<polygon points="307.2,259.0 304.905,256.3 307.2,257.38 309.495,256.3" fill="#1a1a1a" stroke="#1a1a1a" stroke-width="0.50"/>
<text x="307.80" y="243.20" font-size="9.3" text-anchor="middle" fill="#111" stroke="#111" stroke-width="0.12" >aTc</text>
<text x="254.80" y="268.40" font-size="9.3" text-anchor="start" fill="#111" stroke="#111" stroke-width="0.12" font-style="italic">dcas9</text>
<text x="318.60" y="291.60" font-size="9.3" text-anchor="start" fill="#111" stroke="#111" stroke-width="0.12" font-style="italic">tetR</text>
<text x="361.60" y="268.40" font-size="9.3" text-anchor="start" fill="#111" stroke="#111" stroke-width="0.12" >Activator</text>
<text x="419.40" y="268.80" font-size="9.3" text-anchor="start" fill="#111" stroke="#111" stroke-width="0.12" font-style="italic">sfgfp</text>
<line x1="262.70" y1="284.20" x2="262.70" y2="296.40" stroke="#1a1a1a" stroke-width="1.2" />
<line x1="372.00" y1="284.20" x2="372.00" y2="296.40" stroke="#1a1a1a" stroke-width="1.2" />
<line x1="92.30" y1="296.40" x2="397.50" y2="296.40" stroke="#1a1a1a" stroke-width="1.2" />
<line x1="397.50" y1="296.40" x2="397.50" y2="285.60" stroke="#1a1a1a" stroke-width="1.2" />
<polygon points="397.5,284.6 395.205,287.3 397.5,286.22 399.795,287.3" fill="#1a1a1a" stroke="#1a1a1a" stroke-width="0.50"/>
<text x="452.60" y="339.30" font-size="16.5" text-anchor="start" fill="#000" >f</text>
<line x1="460.50" y1="393.80" x2="531.90" y2="393.80" stroke="#1a1a1a" stroke-width="1.0" />
<line x1="466.20" y1="393.80" x2="466.20" y2="398.00" stroke="#1a1a1a" stroke-width="1.0" />
<line x1="463.68" y1="398.00" x2="468.72" y2="398.00" stroke="#1a1a1a" stroke-width="1.0" />
<polygon points="471.00,393.80 474.31,390.70 480.00,390.70 480.00,397.04 474.31,397.04" fill="#d2d2d2" stroke="#1a1a1a" stroke-width="0.9" stroke-linejoin="round"/>
<path d="M484.00,393.80 A2.90,2.90 0 0 0 489.80,393.80 Z" stroke="#1a1a1a" stroke-width="0.9" fill="#ffffff" />
<path d="M496.80,393.80 L496.80,398.41 L491.84,398.41" stroke="#1a1a1a" stroke-width="0.9" fill="none" />
<polygon points="491.04,398.41 492.91,396.82 492.16,398.41 492.91,400.00" fill="#1a1a1a" stroke="#1a1a1a" stroke-width="0.36" stroke-linejoin="miter"/>
<path d="M498.40,393.80 L498.40,389.77 L503.22,389.77" stroke="#1a1a1a" stroke-width="0.9" fill="none" />
<polygon points="504.02,389.77 502.14,388.18 502.89,389.77 502.14,391.36" fill="#1a1a1a" stroke="#1a1a1a" stroke-width="0.36" stroke-linejoin="miter"/>
<path d="M509.50,395.67 L509.50,392.36 L510.02,392.36 A1.34,1.41 0 0 1 512.71,392.36 L513.76,392.36 A1.34,1.41 0 0 1 516.44,392.36 L517.49,392.36 A1.34,1.41 0 0 1 520.18,392.36 L520.70,392.36 L520.70,395.67 Z" stroke="#1a1a1a" stroke-width="0.9" fill="#a8938f" stroke-linejoin="round"/>
<line x1="529.20" y1="393.80" x2="529.20" y2="389.60" stroke="#1a1a1a" stroke-width="1.0" />
<line x1="526.80" y1="389.60" x2="531.60" y2="389.60" stroke="#1a1a1a" stroke-width="1.0" />
<path d="M476.70,390.60 L476.70,381.30 L500.30,381.30 L500.30,386.58" stroke="#1a1a1a" stroke-width="0.9" fill="none" />
<polygon points="500.3,387.3 498.6476,385.356 500.3,386.1336 501.9524,385.356" fill="#1a1a1a" stroke="#1a1a1a" stroke-width="0.36"/>
<line x1="489.40" y1="371.50" x2="489.40" y2="378.78" stroke="#1a1a1a" stroke-width="0.9" />
<polygon points="489.4,379.5 487.7476,377.556 489.4,378.3336 491.0524,377.556" fill="#1a1a1a" stroke="#1a1a1a" stroke-width="0.36"/>
<text x="488.40" y="370.40" font-size="8.7" text-anchor="middle" fill="#111" stroke="#111" stroke-width="0.12" >AHL</text>
<line x1="515.20" y1="397.40" x2="515.20" y2="403.68" stroke="#1a1a1a" stroke-width="0.9" />
<polygon points="515.2,404.4 513.5476000000001,402.45599999999996 515.2,403.23359999999997 516.8524,402.45599999999996" fill="#1a1a1a" stroke="#1a1a1a" stroke-width="0.36"/>
<line x1="503.90" y1="407.60" x2="515.70" y2="407.60" stroke="#8b55c0" stroke-width="1.0" />
<line x1="515.70" y1="407.60" x2="527.00" y2="407.60" stroke="#cfcfcf" stroke-width="1.0" />
<text x="485.20" y="410.40" font-size="8.7" text-anchor="middle" fill="#111" stroke="#111" stroke-width="0.12" >crRNA</text>
<text x="485.00" y="419.60" font-size="8.7" text-anchor="middle" fill="#111" stroke="#111" stroke-width="0.12" >(Input 1)</text>
<line x1="462.00" y1="466.00" x2="533.40" y2="466.00" stroke="#1a1a1a" stroke-width="1.0" />
<line x1="467.70" y1="466.00" x2="467.70" y2="470.20" stroke="#1a1a1a" stroke-width="1.0" />
<line x1="465.18" y1="470.20" x2="470.22" y2="470.20" stroke="#1a1a1a" stroke-width="1.0" />
<polygon points="472.50,466.00 475.81,462.90 481.50,462.90 481.50,469.24 475.81,469.24" fill="#d2d2d2" stroke="#1a1a1a" stroke-width="0.9" stroke-linejoin="round"/>
<path d="M485.50,466.00 A2.90,2.90 0 0 0 491.30,466.00 Z" stroke="#1a1a1a" stroke-width="0.9" fill="#ffffff" />
<path d="M498.30,466.00 L498.30,470.61 L493.34,470.61" stroke="#1a1a1a" stroke-width="0.9" fill="none" />
<polygon points="492.54,470.61 494.41,469.02 493.66,470.61 494.41,472.20" fill="#1a1a1a" stroke="#1a1a1a" stroke-width="0.36" stroke-linejoin="miter"/>
<path d="M499.90,466.00 L499.90,461.97 L504.72,461.97" stroke="#1a1a1a" stroke-width="0.9" fill="none" />
<polygon points="505.52,461.97 503.64,460.38 504.39,461.97 503.64,463.56" fill="#1a1a1a" stroke="#1a1a1a" stroke-width="0.36" stroke-linejoin="miter"/>
<path d="M511.00,467.87 L511.00,464.56 L511.52,464.56 A1.34,1.41 0 0 1 514.21,464.56 L515.26,464.56 A1.34,1.41 0 0 1 517.94,464.56 L518.99,464.56 A1.34,1.41 0 0 1 521.68,464.56 L522.20,464.56 L522.20,467.87 Z" stroke="#1a1a1a" stroke-width="0.9" fill="#a8938f" stroke-linejoin="round"/>
<line x1="530.70" y1="466.00" x2="530.70" y2="461.80" stroke="#1a1a1a" stroke-width="1.0" />
<line x1="528.30" y1="461.80" x2="533.10" y2="461.80" stroke="#1a1a1a" stroke-width="1.0" />
<path d="M478.20,462.80 L478.20,453.50 L501.80,453.50 L501.80,458.78" stroke="#1a1a1a" stroke-width="0.9" fill="none" />
<polygon points="501.8,459.5 500.1476,457.556 501.8,458.3336 503.4524,457.556" fill="#1a1a1a" stroke="#1a1a1a" stroke-width="0.36"/>
<line x1="490.20" y1="443.00" x2="490.20" y2="450.28" stroke="#1a1a1a" stroke-width="0.9" />
<polygon points="490.2,451.0 488.5476,449.056 490.2,449.8336 491.8524,449.056" fill="#1a1a1a" stroke="#1a1a1a" stroke-width="0.36"/>
<text x="486.90" y="441.80" font-size="8.7" text-anchor="middle" fill="#111" stroke="#111" stroke-width="0.12" >Arabinose</text>
<line x1="516.80" y1="469.50" x2="516.80" y2="476.48" stroke="#1a1a1a" stroke-width="0.9" />
<polygon points="516.8,477.2 515.1476,475.256 516.8,476.0336 518.4523999999999,475.256" fill="#1a1a1a" stroke="#1a1a1a" stroke-width="0.36"/>
<g transform="translate(510.3,489.1) rotate(-45)" fill="none" stroke-linecap="round"><path d="M15.4,-0.9 L1.0,-0.9 A1,1 0 0 0 1.0,1.1 L12.3,1.1 A1,1 0 0 1 12.3,3.1 L4.2,3.1 A1.5,1.5 0 0 0 4.2,6.1 L7.6,6.1 M7.6,8.2 L5.2,8.2 A1.05,1.05 0 0 0 5.2,10.3 L7.6,10.3 M7.6,12.4 L5.2,12.4 A1.05,1.05 0 0 0 5.2,14.5 L7.6,14.5 M7.6,16.6 L5.6,16.6" stroke="#b4b4b4" stroke-width="1.0"/><path d="M7.6,6.1 A1.05,1.05 0 0 1 7.6,8.2 M7.6,10.3 A1.05,1.05 0 0 1 7.6,12.4 M7.6,14.5 A1.05,1.05 0 0 1 7.6,16.6" stroke="#29a8e2" stroke-width="1.2"/></g>
<text x="487.00" y="489.40" font-size="8.7" text-anchor="middle" fill="#111" stroke="#111" stroke-width="0.12" >tracrRNA</text>
<text x="486.80" y="498.60" font-size="8.7" text-anchor="middle" fill="#111" stroke="#111" stroke-width="0.12" >(Input 2)</text>
<line x1="529.60" y1="407.60" x2="552.00" y2="407.60" stroke="#1a1a1a" stroke-width="1.1" />
<line x1="529.60" y1="487.80" x2="552.00" y2="487.80" stroke="#1a1a1a" stroke-width="1.1" />
<line x1="552.00" y1="407.00" x2="552.00" y2="488.40" stroke="#1a1a1a" stroke-width="1.1" />
<line x1="552.00" y1="441.20" x2="594.60" y2="441.20" stroke="#1a1a1a" stroke-width="1.0" />
<polygon points="595.4,441.2 593.24,439.364 594.1039999999999,441.2 593.24,443.036" fill="#1a1a1a" stroke="#1a1a1a" stroke-width="0.40"/>
<path d="M536.7,380.3 L605,380.3 A49.6,62 0 0 1 605,504.3 L536.7,504.3 Z" stroke="#1a1a1a" stroke-width="1.1" fill="none" />
<line x1="548.60" y1="391.90" x2="585.00" y2="391.90" stroke="#1a1a1a" stroke-width="1.0" />
<path d="M553.60,391.90 L553.60,388.43 L557.76,388.43" stroke="#1a1a1a" stroke-width="0.9" fill="none" />
<polygon points="558.56,388.43 556.95,387.06 557.59,388.43 556.95,389.80" fill="#1a1a1a" stroke="#1a1a1a" stroke-width="0.31" stroke-linejoin="miter"/>
<path d="M558.60,391.90 A3.00,3.00 0 0 1 564.60,391.90 Z" stroke="#1a1a1a" stroke-width="0.9" fill="#ffffff" />
<polygon points="575.50,391.90 572.65,389.23 566.70,389.23 566.70,394.69 572.65,394.69" fill="#ee7d2b" stroke="#1a1a1a" stroke-width="0.9" stroke-linejoin="round"/>
<line x1="580.20" y1="391.90" x2="580.20" y2="387.70" stroke="#1a1a1a" stroke-width="1.0" />
<line x1="577.80" y1="387.70" x2="582.60" y2="387.70" stroke="#1a1a1a" stroke-width="1.0" />
<line x1="569.00" y1="396.80" x2="569.00" y2="404.08" stroke="#1a1a1a" stroke-width="0.9" />
<polygon points="569.0,404.8 567.3476,402.856 569.0,403.6336 570.6524,402.856" fill="#1a1a1a" stroke="#1a1a1a" stroke-width="0.36"/>
<line x1="569.00" y1="429.00" x2="569.00" y2="435.48" stroke="#1a1a1a" stroke-width="0.9" />
<polygon points="569.0,436.2 567.3476,434.256 569.0,435.0336 570.6524,434.256" fill="#1a1a1a" stroke="#1a1a1a" stroke-width="0.36"/>
<line x1="569.00" y1="454.40" x2="569.00" y2="448.32" stroke="#1a1a1a" stroke-width="0.9" />
<polygon points="569.0,447.6 567.3476,449.54400000000004 569.0,448.76640000000003 570.6524,449.54400000000004" fill="#1a1a1a" stroke="#1a1a1a" stroke-width="0.36"/>
<line x1="569.00" y1="485.80" x2="569.00" y2="480.12" stroke="#1a1a1a" stroke-width="0.9" />
<polygon points="569.0,479.4 567.3476,481.344 569.0,480.5664 570.6524,481.344" fill="#1a1a1a" stroke="#1a1a1a" stroke-width="0.36"/>
<text x="583.20" y="419.30" font-size="8.7" text-anchor="start" fill="#111" stroke="#111" stroke-width="0.12" >activator</text>
<text x="580.50" y="470.30" font-size="8.7" text-anchor="start" fill="#111" stroke="#111" stroke-width="0.12" >dCas9/dxCas9</text>
<g transform="translate(558.6,456.6) scale(1.03,1.02)" fill="#dae6f4"><ellipse cx="9.6" cy="7.8" rx="9.6" ry="7.8"/><ellipse cx="10.6" cy="13.6" rx="7.6" ry="6.4"/></g>
<line x1="598.50" y1="441.20" x2="634.60" y2="441.20" stroke="#1a1a1a" stroke-width="1.0" />
<path d="M601.30,441.20 L601.30,437.73 L605.46,437.73" stroke="#1a1a1a" stroke-width="0.9" fill="none" />
<polygon points="606.26,437.73 604.65,436.36 605.29,437.73 604.65,439.10" fill="#1a1a1a" stroke="#1a1a1a" stroke-width="0.31" stroke-linejoin="miter"/>
<path d="M608.10,441.20 A3.00,3.00 0 0 1 614.10,441.20 Z" stroke="#1a1a1a" stroke-width="0.9" fill="#ffffff" />
<polygon points="624.80,441.20 621.95,438.53 616.00,438.53 616.00,443.99 621.95,443.99" fill="#6db33f" stroke="#1a1a1a" stroke-width="0.9" stroke-linejoin="round"/>
<line x1="629.40" y1="441.20" x2="629.40" y2="437.00" stroke="#1a1a1a" stroke-width="1.0" />
<line x1="627.00" y1="437.00" x2="631.80" y2="437.00" stroke="#1a1a1a" stroke-width="1.0" />
<line x1="638.00" y1="441.30" x2="662.40" y2="441.30" stroke="#1a1a1a" stroke-width="1.0" />
<polygon points="663.2,441.3 661.0400000000001,439.464 661.904,441.3 661.0400000000001,443.136" fill="#1a1a1a" stroke="#1a1a1a" stroke-width="0.40"/>
<line x1="555.80" y1="491.50" x2="623.70" y2="491.50" stroke="#1a1a1a" stroke-width="1.0" />
<line x1="559.00" y1="491.50" x2="559.00" y2="495.70" stroke="#1a1a1a" stroke-width="1.0" />
<line x1="556.48" y1="495.70" x2="561.52" y2="495.70" stroke="#1a1a1a" stroke-width="1.0" />
<polygon points="564.60,491.50 567.45,488.83 573.30,488.83 573.30,494.29 567.45,494.29" fill="#d9e4f4" stroke="#1a1a1a" stroke-width="0.9" stroke-linejoin="round"/>
<path d="M577.60,491.50 A2.90,2.90 0 0 0 583.40,491.50 Z" stroke="#1a1a1a" stroke-width="0.9" fill="#ffffff" />
<path d="M587.50,491.50 L587.50,495.82 L582.90,495.82" stroke="#1a1a1a" stroke-width="0.9" fill="none" />
<polygon points="582.10,495.82 583.97,494.23 583.22,495.82 583.97,497.41" fill="#1a1a1a" stroke="#1a1a1a" stroke-width="0.36" stroke-linejoin="miter"/>
<path d="M592.40,491.50 L592.40,488.03 L596.56,488.03" stroke="#1a1a1a" stroke-width="0.9" fill="none" />
<polygon points="597.36,488.03 595.75,486.66 596.39,488.03 595.75,489.40" fill="#1a1a1a" stroke="#1a1a1a" stroke-width="0.31" stroke-linejoin="miter"/>
<path d="M597.30,491.50 A2.90,2.90 0 0 1 603.10,491.50 Z" stroke="#1a1a1a" stroke-width="0.9" fill="#ffffff" />
<polygon points="613.80,491.50 610.95,488.83 605.00,488.83 605.00,494.29 610.95,494.29" fill="#d2d2d2" stroke="#1a1a1a" stroke-width="0.9" stroke-linejoin="round"/>
<line x1="620.40" y1="491.50" x2="620.40" y2="487.30" stroke="#1a1a1a" stroke-width="1.0" />
<line x1="618.00" y1="487.30" x2="622.80" y2="487.30" stroke="#1a1a1a" stroke-width="1.0" />
<g transform="translate(671.4,442.6) rotate(22)"><path d="M-4.6,-4.8 L-4.6,5.2 A4.6,1.8 0 0 0 4.6,5.2 L4.6,-4.8" fill="#8cd14e" stroke="#1a1a1a" stroke-width="1.1"/><ellipse cx="0" cy="-4.8" rx="4.6" ry="1.8" fill="#a8de78" stroke="#1a1a1a" stroke-width="1.1"/></g>
<text x="669.00" y="421.50" font-size="8.7" text-anchor="middle" fill="#111" stroke="#111" stroke-width="0.12" >(Output)</text>
<text x="669.40" y="431.80" font-size="8.7" text-anchor="middle" fill="#111" stroke="#111" stroke-width="0.12" >sfGFP</text>
<text x="-0.50" y="339.30" font-size="16.5" text-anchor="start" fill="#000" >d</text>
<text x="5.60" y="362.40" font-size="6" text-anchor="start" fill="#8c8c8c" >–</text>
<text x="14.70 18.80" y="362.40" font-size="5.9" fill="#7a4fa3" stroke="#7a4fa3" stroke-width="0.2" text-anchor="middle">NN</text>
<text x="23.60" y="362.40" font-size="5.9" fill="#e8383d" stroke="#e8383d" stroke-width="0.2" text-anchor="middle">G</text>
<text x="27.80 31.65 35.50 39.35 43.20" y="362.40" font-size="5.9" fill="#2aa0da" stroke="#2aa0da" stroke-width="0.2" text-anchor="middle">NNNNN</text>
<text x="49.00 53.50" y="362.40" font-size="5.9" fill="#e8383d" stroke="#e8383d" stroke-width="0.2" text-anchor="middle">GA</text>
<text x="57.60 61.35 65.10 68.85" y="362.40" font-size="5.9" fill="#2aa0da" stroke="#2aa0da" stroke-width="0.2" text-anchor="middle">NNNN</text>
<text x="75.00 78.98 82.96 86.94 90.92 94.90 98.88 102.86 106.84 110.82" y="362.40" font-size="5.9" fill="#8c8c8c" stroke="#8c8c8c" stroke-width="0.2" text-anchor="middle">UGCUGUUUUG</text>
<text x="114.40" y="362.40" font-size="6" text-anchor="start" fill="#8c8c8c" >–</text>
<circle cx="24.00" cy="367.80" r="0.80" fill="#111" stroke="none" stroke-width="1" />
<circle cx="49.20" cy="367.80" r="0.80" fill="#111" stroke="none" stroke-width="1" />
<line x1="28.60" y1="364.90" x2="28.60" y2="370.70" stroke="#111" stroke-width="1.3" />
<line x1="32.50" y1="364.90" x2="32.50" y2="370.70" stroke="#111" stroke-width="1.3" />
<line x1="36.40" y1="364.90" x2="36.40" y2="370.70" stroke="#111" stroke-width="1.3" />
<line x1="40.30" y1="364.90" x2="40.30" y2="370.70" stroke="#111" stroke-width="1.3" />
<line x1="44.00" y1="364.90" x2="44.00" y2="370.70" stroke="#111" stroke-width="1.3" />
<line x1="57.80" y1="364.90" x2="57.80" y2="370.70" stroke="#111" stroke-width="1.3" />
<line x1="61.60" y1="364.90" x2="61.60" y2="370.70" stroke="#111" stroke-width="1.3" />
<line x1="65.40" y1="364.90" x2="65.40" y2="370.70" stroke="#111" stroke-width="1.3" />
<line x1="69.20" y1="364.90" x2="69.20" y2="370.70" stroke="#111" stroke-width="1.3" />
<line x1="74.60" y1="364.90" x2="74.60" y2="370.70" stroke="#b0b0b0" stroke-width="1.0" />
<line x1="78.55" y1="364.90" x2="78.55" y2="370.70" stroke="#b0b0b0" stroke-width="1.0" />
<line x1="82.50" y1="364.90" x2="82.50" y2="370.70" stroke="#b0b0b0" stroke-width="1.0" />
<line x1="86.45" y1="364.90" x2="86.45" y2="370.70" stroke="#b0b0b0" stroke-width="1.0" />
<line x1="90.40" y1="364.90" x2="90.40" y2="370.70" stroke="#b0b0b0" stroke-width="1.0" />
<line x1="94.35" y1="364.90" x2="94.35" y2="370.70" stroke="#b0b0b0" stroke-width="1.0" />
<line x1="98.30" y1="364.90" x2="98.30" y2="370.70" stroke="#b0b0b0" stroke-width="1.0" />
<line x1="102.25" y1="364.90" x2="102.25" y2="370.70" stroke="#b0b0b0" stroke-width="1.0" />
<line x1="106.20" y1="364.90" x2="106.20" y2="370.70" stroke="#b0b0b0" stroke-width="1.0" />
<line x1="110.15" y1="364.90" x2="110.15" y2="370.70" stroke="#b0b0b0" stroke-width="1.0" />
<line x1="114.10" y1="364.90" x2="114.10" y2="370.70" stroke="#b0b0b0" stroke-width="1.0" />
<text x="15.00" y="376.80" font-size="6" text-anchor="start" fill="#8c8c8c" >–</text>
<text x="24.00" y="376.80" font-size="5.9" fill="#e8383d" stroke="#e8383d" stroke-width="0.2" text-anchor="middle">U</text>
<text x="27.80 31.65 35.50 39.35 43.20" y="376.80" font-size="5.9" fill="#2aa0da" stroke="#2aa0da" stroke-width="0.2" text-anchor="middle">NNNNN</text>
<text x="49.40" y="376.80" font-size="5.9" fill="#e8383d" stroke="#e8383d" stroke-width="0.2" text-anchor="middle">U</text>
<text x="57.60 61.35 65.10 68.85" y="376.80" font-size="5.9" fill="#2aa0da" stroke="#2aa0da" stroke-width="0.2" text-anchor="middle">NNNN</text>
<text x="75.00 78.97 82.94 86.91 90.88 94.85 98.82 102.79 106.76 110.73 114.70 118.67 122.64 126.61 130.58 134.55 138.52 142.49 146.46" y="376.80" font-size="5.9" fill="#8c8c8c" stroke="#8c8c8c" stroke-width="0.2" text-anchor="middle">ACGACAAAACUUACCAAGG</text>
<text x="151.80" y="376.80" font-size="6" text-anchor="start" fill="#8c8c8c" >–</text>
<text x="50.00" y="382.20" font-size="5.9" fill="#e8383d" stroke="#e8383d" stroke-width="0.2" text-anchor="middle">G</text>
<text x="53.80" y="385.00" font-size="5.9" fill="#e8383d" stroke="#e8383d" stroke-width="0.2" text-anchor="middle">A</text>
<text x="58.20" y="382.60" font-size="5.9" fill="#e8383d" stroke="#e8383d" stroke-width="0.2" text-anchor="middle">A</text>
<text x="14.70" y="397.60" font-size="9.3" text-anchor="start" fill="#111" stroke="#111" stroke-width="0.12" >matching region of crRNA-tracrRNA</text>
<text x="0.30" y="415.10" font-size="7.3" text-anchor="start" fill="#505050" stroke="#505050" stroke-width="0.12" >WT:</text>
<text x="16.00" y="414.70" font-size="6" text-anchor="start" fill="#8c8c8c" >–</text>
<text x="25.20 29.37 33.54 37.71" y="414.70" font-size="5.9" fill="#7a4fa3" stroke="#7a4fa3" stroke-width="0.2" text-anchor="middle">NNNN</text>
<text x="44.45" y="414.70" font-size="5.9" fill="#e8383d" stroke="#e8383d" stroke-width="0.2" text-anchor="middle">G</text>
<text x="48.74 53.03 57.32 61.61 65.90" y="414.70" font-size="5.9" fill="#3aa64c" stroke="#3aa64c" stroke-width="0.2" text-anchor="middle">UUUUA</text>
<text x="70.19 74.48" y="414.70" font-size="5.9" fill="#e8383d" stroke="#e8383d" stroke-width="0.2" text-anchor="middle">GA</text>
<text x="78.77 83.06 87.35 91.64" y="414.70" font-size="5.9" fill="#3aa64c" stroke="#3aa64c" stroke-width="0.2" text-anchor="middle">GCUA</text>
<text x="93.90" y="414.70" font-size="6" text-anchor="start" fill="#8c8c8c" >–</text>
<text x="36.00" y="421.60" font-size="6" text-anchor="start" fill="#8c8c8c" >–</text>
<text x="44.45" y="421.60" font-size="5.9" fill="#e8383d" stroke="#e8383d" stroke-width="0.2" text-anchor="middle">U</text>
<text x="48.74 53.03 57.32 61.61 65.90" y="421.60" font-size="5.9" fill="#3aa64c" stroke="#3aa64c" stroke-width="0.2" text-anchor="middle">AAAAU</text>
<text x="70.19" y="421.60" font-size="5.9" fill="#e8383d" stroke="#e8383d" stroke-width="0.2" text-anchor="middle">U</text>
<text x="78.77 83.06 87.35 91.64" y="421.60" font-size="5.9" fill="#3aa64c" stroke="#3aa64c" stroke-width="0.2" text-anchor="middle">CGAU</text>
<text x="93.90" y="421.60" font-size="6" text-anchor="start" fill="#8c8c8c" >–</text>
<text x="70.20" y="427.40" font-size="5.9" fill="#e8383d" stroke="#e8383d" stroke-width="0.2" text-anchor="middle">G</text>
<text x="74.90" y="429.70" font-size="5.9" fill="#e8383d" stroke="#e8383d" stroke-width="0.2" text-anchor="middle">A</text>
<text x="78.90" y="426.70" font-size="5.9" fill="#e8383d" stroke="#e8383d" stroke-width="0.2" text-anchor="middle">A</text>
<line x1="68.20" y1="422.90" x2="72.00" y2="422.90" stroke="#e8383d" stroke-width="0.5" />
<text x="0.30" y="438.00" font-size="7.3" text-anchor="start" fill="#505050" stroke="#505050" stroke-width="0.12" >d1 :</text>
<text x="16.00" y="437.60" font-size="6" text-anchor="start" fill="#8c8c8c" >–</text>
<text x="25.20 29.37 33.54 37.71" y="437.60" font-size="5.9" fill="#7a4fa3" stroke="#7a4fa3" stroke-width="0.2" text-anchor="middle">NNNN</text>
<text x="44.45" y="437.60" font-size="5.9" fill="#e8383d" stroke="#e8383d" stroke-width="0.2" text-anchor="middle">G</text>
<text x="48.74 53.03 57.32 61.61 65.90" y="437.60" font-size="5.9" fill="#3aa64c" stroke="#3aa64c" stroke-width="0.2" text-anchor="middle">UUUUA</text>
<text x="70.19 74.48" y="437.60" font-size="5.9" fill="#e8383d" stroke="#e8383d" stroke-width="0.2" text-anchor="middle">GA</text>
<text x="78.77 83.06 87.35" y="437.60" font-size="5.9" fill="#3aa64c" stroke="#3aa64c" stroke-width="0.2" text-anchor="middle">GCU</text>
<text x="91.64" y="437.60" font-size="5.9" fill="#2aa0da" stroke="#2aa0da" stroke-width="0.2" text-anchor="middle">U</text>
<line x1="89.50" y1="438.90" x2="93.78" y2="438.90" stroke="#9fd3f0" stroke-width="0.6" />
<text x="93.90" y="437.60" font-size="6" text-anchor="start" fill="#8c8c8c" >–</text>
<text x="36.00" y="444.50" font-size="6" text-anchor="start" fill="#8c8c8c" >–</text>
<text x="44.45" y="444.50" font-size="5.9" fill="#e8383d" stroke="#e8383d" stroke-width="0.2" text-anchor="middle">U</text>
<text x="48.74 53.03 57.32 61.61 65.90" y="444.50" font-size="5.9" fill="#3aa64c" stroke="#3aa64c" stroke-width="0.2" text-anchor="middle">AAAAU</text>
<text x="70.19" y="444.50" font-size="5.9" fill="#e8383d" stroke="#e8383d" stroke-width="0.2" text-anchor="middle">U</text>
<text x="78.77 83.06 87.35" y="444.50" font-size="5.9" fill="#3aa64c" stroke="#3aa64c" stroke-width="0.2" text-anchor="middle">CGA</text>
<text x="91.64" y="444.50" font-size="5.9" fill="#2aa0da" stroke="#2aa0da" stroke-width="0.2" text-anchor="middle">A</text>
<line x1="89.50" y1="445.80" x2="93.78" y2="445.80" stroke="#9fd3f0" stroke-width="0.6" />
<text x="93.90" y="444.50" font-size="6" text-anchor="start" fill="#8c8c8c" >–</text>
<text x="70.20" y="450.30" font-size="5.9" fill="#e8383d" stroke="#e8383d" stroke-width="0.2" text-anchor="middle">G</text>
<text x="74.90" y="452.60" font-size="5.9" fill="#e8383d" stroke="#e8383d" stroke-width="0.2" text-anchor="middle">A</text>
<text x="78.90" y="449.60" font-size="5.9" fill="#e8383d" stroke="#e8383d" stroke-width="0.2" text-anchor="middle">A</text>
<line x1="68.20" y1="445.80" x2="72.00" y2="445.80" stroke="#e8383d" stroke-width="0.5" />
<text x="0.30" y="461.40" font-size="7.3" text-anchor="start" fill="#505050" stroke="#505050" stroke-width="0.12" >d2 :</text>
<text x="16.00" y="461.00" font-size="6" text-anchor="start" fill="#8c8c8c" >–</text>
<text x="25.20 29.37 33.54 37.71" y="461.00" font-size="5.9" fill="#7a4fa3" stroke="#7a4fa3" stroke-width="0.2" text-anchor="middle">NNNN</text>
<text x="44.45" y="461.00" font-size="5.9" fill="#e8383d" stroke="#e8383d" stroke-width="0.2" text-anchor="middle">G</text>
<text x="48.74 53.03 57.32 61.61 65.90" y="461.00" font-size="5.9" fill="#3aa64c" stroke="#3aa64c" stroke-width="0.2" text-anchor="middle">UUUUA</text>
<text x="70.19 74.48" y="461.00" font-size="5.9" fill="#e8383d" stroke="#e8383d" stroke-width="0.2" text-anchor="middle">GA</text>
<text x="78.77 83.06" y="461.00" font-size="5.9" fill="#3aa64c" stroke="#3aa64c" stroke-width="0.2" text-anchor="middle">GC</text>
<text x="87.35 91.64" y="461.00" font-size="5.9" fill="#2aa0da" stroke="#2aa0da" stroke-width="0.2" text-anchor="middle">AU</text>
<line x1="85.20" y1="462.30" x2="93.78" y2="462.30" stroke="#9fd3f0" stroke-width="0.6" />
<text x="93.90" y="461.00" font-size="6" text-anchor="start" fill="#8c8c8c" >–</text>
<text x="36.00" y="467.90" font-size="6" text-anchor="start" fill="#8c8c8c" >–</text>
<text x="44.45" y="467.90" font-size="5.9" fill="#e8383d" stroke="#e8383d" stroke-width="0.2" text-anchor="middle">U</text>
<text x="48.74 53.03 57.32 61.61 65.90" y="467.90" font-size="5.9" fill="#3aa64c" stroke="#3aa64c" stroke-width="0.2" text-anchor="middle">AAAAU</text>
<text x="70.19" y="467.90" font-size="5.9" fill="#e8383d" stroke="#e8383d" stroke-width="0.2" text-anchor="middle">U</text>
<text x="78.77 83.06" y="467.90" font-size="5.9" fill="#3aa64c" stroke="#3aa64c" stroke-width="0.2" text-anchor="middle">CG</text>
<text x="87.35 91.64" y="467.90" font-size="5.9" fill="#2aa0da" stroke="#2aa0da" stroke-width="0.2" text-anchor="middle">UA</text>
<line x1="85.20" y1="469.20" x2="93.78" y2="469.20" stroke="#9fd3f0" stroke-width="0.6" />
<text x="93.90" y="467.90" font-size="6" text-anchor="start" fill="#8c8c8c" >–</text>
<text x="70.20" y="473.70" font-size="5.9" fill="#e8383d" stroke="#e8383d" stroke-width="0.2" text-anchor="middle">G</text>
<text x="74.90" y="476.00" font-size="5.9" fill="#e8383d" stroke="#e8383d" stroke-width="0.2" text-anchor="middle">A</text>
<text x="78.90" y="473.00" font-size="5.9" fill="#e8383d" stroke="#e8383d" stroke-width="0.2" text-anchor="middle">A</text>
<line x1="68.20" y1="469.20" x2="72.00" y2="469.20" stroke="#e8383d" stroke-width="0.5" />
<text x="0.30" y="484.00" font-size="7.3" text-anchor="start" fill="#505050" stroke="#505050" stroke-width="0.12" >d3 :</text>
<text x="16.00" y="483.60" font-size="6" text-anchor="start" fill="#8c8c8c" >–</text>
<text x="25.20 29.37 33.54 37.71" y="483.60" font-size="5.9" fill="#7a4fa3" stroke="#7a4fa3" stroke-width="0.2" text-anchor="middle">NNNN</text>
<text x="44.45" y="483.60" font-size="5.9" fill="#e8383d" stroke="#e8383d" stroke-width="0.2" text-anchor="middle">G</text>
<text x="48.74 53.03 57.32 61.61 65.90" y="483.60" font-size="5.9" fill="#3aa64c" stroke="#3aa64c" stroke-width="0.2" text-anchor="middle">UUUUA</text>
<text x="70.19 74.48" y="483.60" font-size="5.9" fill="#e8383d" stroke="#e8383d" stroke-width="0.2" text-anchor="middle">GA</text>
<text x="78.77" y="483.60" font-size="5.9" fill="#3aa64c" stroke="#3aa64c" stroke-width="0.2" text-anchor="middle">G</text>
<text x="83.06 87.35 91.64" y="483.60" font-size="5.9" fill="#2aa0da" stroke="#2aa0da" stroke-width="0.2" text-anchor="middle">GAU</text>
<line x1="80.92" y1="484.90" x2="93.78" y2="484.90" stroke="#9fd3f0" stroke-width="0.6" />
<text x="93.90" y="483.60" font-size="6" text-anchor="start" fill="#8c8c8c" >–</text>
<text x="36.00" y="490.50" font-size="6" text-anchor="start" fill="#8c8c8c" >–</text>
<text x="44.45" y="490.50" font-size="5.9" fill="#e8383d" stroke="#e8383d" stroke-width="0.2" text-anchor="middle">U</text>
<text x="48.74 53.03 57.32 61.61 65.90" y="490.50" font-size="5.9" fill="#3aa64c" stroke="#3aa64c" stroke-width="0.2" text-anchor="middle">AAAAU</text>
<text x="70.19" y="490.50" font-size="5.9" fill="#e8383d" stroke="#e8383d" stroke-width="0.2" text-anchor="middle">U</text>
<text x="78.77" y="490.50" font-size="5.9" fill="#3aa64c" stroke="#3aa64c" stroke-width="0.2" text-anchor="middle">C</text>
<text x="83.06 87.35 91.64" y="490.50" font-size="5.9" fill="#2aa0da" stroke="#2aa0da" stroke-width="0.2" text-anchor="middle">CUA</text>
<line x1="80.92" y1="491.80" x2="93.78" y2="491.80" stroke="#9fd3f0" stroke-width="0.6" />
<text x="93.90" y="490.50" font-size="6" text-anchor="start" fill="#8c8c8c" >–</text>
<text x="70.20" y="496.30" font-size="5.9" fill="#e8383d" stroke="#e8383d" stroke-width="0.2" text-anchor="middle">G</text>
<text x="74.90" y="498.60" font-size="5.9" fill="#e8383d" stroke="#e8383d" stroke-width="0.2" text-anchor="middle">A</text>
<text x="78.90" y="495.60" font-size="5.9" fill="#e8383d" stroke="#e8383d" stroke-width="0.2" text-anchor="middle">A</text>
<line x1="68.20" y1="491.80" x2="72.00" y2="491.80" stroke="#e8383d" stroke-width="0.5" />
<text x="0.30" y="507.60" font-size="7.3" text-anchor="start" fill="#505050" stroke="#505050" stroke-width="0.12" >d4 :</text>
<text x="16.00" y="507.20" font-size="6" text-anchor="start" fill="#8c8c8c" >–</text>
<text x="25.20 29.37 33.54 37.71" y="507.20" font-size="5.9" fill="#7a4fa3" stroke="#7a4fa3" stroke-width="0.2" text-anchor="middle">NNNN</text>
<text x="44.45" y="507.20" font-size="5.9" fill="#e8383d" stroke="#e8383d" stroke-width="0.2" text-anchor="middle">G</text>
<text x="48.74 53.03 57.32 61.61 65.90" y="507.20" font-size="5.9" fill="#3aa64c" stroke="#3aa64c" stroke-width="0.2" text-anchor="middle">UUUUA</text>
<text x="70.19 74.48" y="507.20" font-size="5.9" fill="#e8383d" stroke="#e8383d" stroke-width="0.2" text-anchor="middle">GA</text>
<text x="78.77 83.06 87.35 91.64" y="507.20" font-size="5.9" fill="#2aa0da" stroke="#2aa0da" stroke-width="0.2" text-anchor="middle">CGAU</text>
<line x1="76.63" y1="508.50" x2="93.79" y2="508.50" stroke="#9fd3f0" stroke-width="0.6" />
<text x="93.90" y="507.20" font-size="6" text-anchor="start" fill="#8c8c8c" >–</text>
<text x="36.00" y="514.10" font-size="6" text-anchor="start" fill="#8c8c8c" >–</text>
<text x="44.45" y="514.10" font-size="5.9" fill="#e8383d" stroke="#e8383d" stroke-width="0.2" text-anchor="middle">U</text>
<text x="48.74 53.03 57.32 61.61 65.90" y="514.10" font-size="5.9" fill="#3aa64c" stroke="#3aa64c" stroke-width="0.2" text-anchor="middle">AAAAU</text>
<text x="70.19" y="514.10" font-size="5.9" fill="#e8383d" stroke="#e8383d" stroke-width="0.2" text-anchor="middle">U</text>
<text x="78.77 83.06 87.35 91.64" y="514.10" font-size="5.9" fill="#2aa0da" stroke="#2aa0da" stroke-width="0.2" text-anchor="middle">GCUA</text>
<line x1="76.63" y1="515.40" x2="93.79" y2="515.40" stroke="#9fd3f0" stroke-width="0.6" />
<text x="93.90" y="514.10" font-size="6" text-anchor="start" fill="#8c8c8c" >–</text>
<text x="70.20" y="519.90" font-size="5.9" fill="#e8383d" stroke="#e8383d" stroke-width="0.2" text-anchor="middle">G</text>
<text x="74.90" y="522.20" font-size="5.9" fill="#e8383d" stroke="#e8383d" stroke-width="0.2" text-anchor="middle">A</text>
<text x="78.90" y="519.20" font-size="5.9" fill="#e8383d" stroke="#e8383d" stroke-width="0.2" text-anchor="middle">A</text>
<line x1="68.20" y1="515.40" x2="72.00" y2="515.40" stroke="#e8383d" stroke-width="0.5" />
<text x="103.80" y="415.10" font-size="7.3" text-anchor="start" fill="#505050" stroke="#505050" stroke-width="0.12" >U1 :</text>
<text x="118.50" y="414.70" font-size="6" text-anchor="start" fill="#8c8c8c" >–</text>
<text x="127.70 131.87 136.04 140.21" y="414.70" font-size="5.9" fill="#7a4fa3" stroke="#7a4fa3" stroke-width="0.2" text-anchor="middle">NNNN</text>
<text x="146.95" y="414.70" font-size="5.9" fill="#e8383d" stroke="#e8383d" stroke-width="0.2" text-anchor="middle">G</text>
<text x="151.24 155.53 159.82 164.11" y="414.70" font-size="5.9" fill="#3aa64c" stroke="#3aa64c" stroke-width="0.2" text-anchor="middle">UUUU</text>
<text x="168.40" y="414.70" font-size="5.9" fill="#2aa0da" stroke="#2aa0da" stroke-width="0.2" text-anchor="middle">U</text>
<line x1="166.25" y1="416.00" x2="170.54" y2="416.00" stroke="#9fd3f0" stroke-width="0.6" />
<text x="172.69 176.98" y="414.70" font-size="5.9" fill="#e8383d" stroke="#e8383d" stroke-width="0.2" text-anchor="middle">GA</text>
<text x="181.27 185.56 189.85 194.14" y="414.70" font-size="5.9" fill="#2aa0da" stroke="#2aa0da" stroke-width="0.2" text-anchor="middle">CGAU</text>
<line x1="179.12" y1="416.00" x2="196.28" y2="416.00" stroke="#9fd3f0" stroke-width="0.6" />
<text x="196.40" y="414.70" font-size="6" text-anchor="start" fill="#8c8c8c" >–</text>
<text x="138.50" y="421.60" font-size="6" text-anchor="start" fill="#8c8c8c" >–</text>
<text x="146.95" y="421.60" font-size="5.9" fill="#e8383d" stroke="#e8383d" stroke-width="0.2" text-anchor="middle">U</text>
<text x="151.24 155.53 159.82 164.11" y="421.60" font-size="5.9" fill="#3aa64c" stroke="#3aa64c" stroke-width="0.2" text-anchor="middle">AAAA</text>
<text x="168.40" y="421.60" font-size="5.9" fill="#2aa0da" stroke="#2aa0da" stroke-width="0.2" text-anchor="middle">A</text>
<line x1="166.25" y1="422.90" x2="170.54" y2="422.90" stroke="#9fd3f0" stroke-width="0.6" />
<text x="172.69" y="421.60" font-size="5.9" fill="#e8383d" stroke="#e8383d" stroke-width="0.2" text-anchor="middle">U</text>
<text x="181.27 185.56 189.85 194.14" y="421.60" font-size="5.9" fill="#2aa0da" stroke="#2aa0da" stroke-width="0.2" text-anchor="middle">GCUA</text>
<line x1="179.12" y1="422.90" x2="196.28" y2="422.90" stroke="#9fd3f0" stroke-width="0.6" />
<text x="196.40" y="421.60" font-size="6" text-anchor="start" fill="#8c8c8c" >–</text>
<text x="172.70" y="427.40" font-size="5.9" fill="#e8383d" stroke="#e8383d" stroke-width="0.2" text-anchor="middle">G</text>
<text x="177.40" y="429.70" font-size="5.9" fill="#e8383d" stroke="#e8383d" stroke-width="0.2" text-anchor="middle">A</text>
<text x="181.40" y="426.70" font-size="5.9" fill="#e8383d" stroke="#e8383d" stroke-width="0.2" text-anchor="middle">A</text>
<line x1="170.70" y1="422.90" x2="174.50" y2="422.90" stroke="#e8383d" stroke-width="0.5" />
<text x="103.80" y="438.00" font-size="7.3" text-anchor="start" fill="#505050" stroke="#505050" stroke-width="0.12" >U2 :</text>
<text x="118.50" y="437.60" font-size="6" text-anchor="start" fill="#8c8c8c" >–</text>
<text x="127.70 131.87 136.04 140.21" y="437.60" font-size="5.9" fill="#7a4fa3" stroke="#7a4fa3" stroke-width="0.2" text-anchor="middle">NNNN</text>
<text x="146.95" y="437.60" font-size="5.9" fill="#e8383d" stroke="#e8383d" stroke-width="0.2" text-anchor="middle">G</text>
<text x="151.24 155.53 159.82" y="437.60" font-size="5.9" fill="#3aa64c" stroke="#3aa64c" stroke-width="0.2" text-anchor="middle">UUU</text>
<text x="164.11 168.40" y="437.60" font-size="5.9" fill="#2aa0da" stroke="#2aa0da" stroke-width="0.2" text-anchor="middle">AU</text>
<line x1="161.96" y1="438.90" x2="170.54" y2="438.90" stroke="#9fd3f0" stroke-width="0.6" />
<text x="172.69 176.98" y="437.60" font-size="5.9" fill="#e8383d" stroke="#e8383d" stroke-width="0.2" text-anchor="middle">GA</text>
<text x="181.27 185.56 189.85 194.14" y="437.60" font-size="5.9" fill="#2aa0da" stroke="#2aa0da" stroke-width="0.2" text-anchor="middle">CGAU</text>
<line x1="179.12" y1="438.90" x2="196.28" y2="438.90" stroke="#9fd3f0" stroke-width="0.6" />
<text x="196.40" y="437.60" font-size="6" text-anchor="start" fill="#8c8c8c" >–</text>
<text x="138.50" y="444.50" font-size="6" text-anchor="start" fill="#8c8c8c" >–</text>
<text x="146.95" y="444.50" font-size="5.9" fill="#e8383d" stroke="#e8383d" stroke-width="0.2" text-anchor="middle">U</text>
<text x="151.24 155.53 159.82" y="444.50" font-size="5.9" fill="#3aa64c" stroke="#3aa64c" stroke-width="0.2" text-anchor="middle">AAA</text>
<text x="164.11 168.40" y="444.50" font-size="5.9" fill="#2aa0da" stroke="#2aa0da" stroke-width="0.2" text-anchor="middle">UA</text>
<line x1="161.96" y1="445.80" x2="170.54" y2="445.80" stroke="#9fd3f0" stroke-width="0.6" />
<text x="172.69" y="444.50" font-size="5.9" fill="#e8383d" stroke="#e8383d" stroke-width="0.2" text-anchor="middle">U</text>
<text x="181.27 185.56 189.85 194.14" y="444.50" font-size="5.9" fill="#2aa0da" stroke="#2aa0da" stroke-width="0.2" text-anchor="middle">GCUA</text>
<line x1="179.12" y1="445.80" x2="196.28" y2="445.80" stroke="#9fd3f0" stroke-width="0.6" />
<text x="196.40" y="444.50" font-size="6" text-anchor="start" fill="#8c8c8c" >–</text>
<text x="172.70" y="450.30" font-size="5.9" fill="#e8383d" stroke="#e8383d" stroke-width="0.2" text-anchor="middle">G</text>
<text x="177.40" y="452.60" font-size="5.9" fill="#e8383d" stroke="#e8383d" stroke-width="0.2" text-anchor="middle">A</text>
<text x="181.40" y="449.60" font-size="5.9" fill="#e8383d" stroke="#e8383d" stroke-width="0.2" text-anchor="middle">A</text>
<line x1="170.70" y1="445.80" x2="174.50" y2="445.80" stroke="#e8383d" stroke-width="0.5" />
<text x="103.80" y="461.40" font-size="7.3" text-anchor="start" fill="#505050" stroke="#505050" stroke-width="0.12" >U3 :</text>
<text x="118.50" y="461.00" font-size="6" text-anchor="start" fill="#8c8c8c" >–</text>
<text x="127.70 131.87 136.04 140.21" y="461.00" font-size="5.9" fill="#7a4fa3" stroke="#7a4fa3" stroke-width="0.2" text-anchor="middle">NNNN</text>
<text x="146.95" y="461.00" font-size="5.9" fill="#e8383d" stroke="#e8383d" stroke-width="0.2" text-anchor="middle">G</text>
<text x="151.24 155.53" y="461.00" font-size="5.9" fill="#3aa64c" stroke="#3aa64c" stroke-width="0.2" text-anchor="middle">UU</text>
<text x="159.82 164.11 168.40" y="461.00" font-size="5.9" fill="#2aa0da" stroke="#2aa0da" stroke-width="0.2" text-anchor="middle">AAU</text>
<line x1="157.67" y1="462.30" x2="170.55" y2="462.30" stroke="#9fd3f0" stroke-width="0.6" />
<text x="172.69 176.98" y="461.00" font-size="5.9" fill="#e8383d" stroke="#e8383d" stroke-width="0.2" text-anchor="middle">GA</text>
<text x="181.27 185.56 189.85 194.14" y="461.00" font-size="5.9" fill="#2aa0da" stroke="#2aa0da" stroke-width="0.2" text-anchor="middle">CGAU</text>
<line x1="179.12" y1="462.30" x2="196.28" y2="462.30" stroke="#9fd3f0" stroke-width="0.6" />
<text x="196.40" y="461.00" font-size="6" text-anchor="start" fill="#8c8c8c" >–</text>
<text x="138.50" y="467.90" font-size="6" text-anchor="start" fill="#8c8c8c" >–</text>
<text x="146.95" y="467.90" font-size="5.9" fill="#e8383d" stroke="#e8383d" stroke-width="0.2" text-anchor="middle">U</text>
<text x="151.24 155.53" y="467.90" font-size="5.9" fill="#3aa64c" stroke="#3aa64c" stroke-width="0.2" text-anchor="middle">AA</text>
<text x="159.82 164.11 168.40" y="467.90" font-size="5.9" fill="#2aa0da" stroke="#2aa0da" stroke-width="0.2" text-anchor="middle">UUA</text>
<line x1="157.67" y1="469.20" x2="170.55" y2="469.20" stroke="#9fd3f0" stroke-width="0.6" />
<text x="172.69" y="467.90" font-size="5.9" fill="#e8383d" stroke="#e8383d" stroke-width="0.2" text-anchor="middle">U</text>
<text x="181.27 185.56 189.85 194.14" y="467.90" font-size="5.9" fill="#2aa0da" stroke="#2aa0da" stroke-width="0.2" text-anchor="middle">GCUA</text>
<line x1="179.12" y1="469.20" x2="196.28" y2="469.20" stroke="#9fd3f0" stroke-width="0.6" />
<text x="196.40" y="467.90" font-size="6" text-anchor="start" fill="#8c8c8c" >–</text>
<text x="172.70" y="473.70" font-size="5.9" fill="#e8383d" stroke="#e8383d" stroke-width="0.2" text-anchor="middle">G</text>
<text x="177.40" y="476.00" font-size="5.9" fill="#e8383d" stroke="#e8383d" stroke-width="0.2" text-anchor="middle">A</text>
<text x="181.40" y="473.00" font-size="5.9" fill="#e8383d" stroke="#e8383d" stroke-width="0.2" text-anchor="middle">A</text>
<line x1="170.70" y1="469.20" x2="174.50" y2="469.20" stroke="#e8383d" stroke-width="0.5" />
<text x="103.80" y="484.00" font-size="7.3" text-anchor="start" fill="#505050" stroke="#505050" stroke-width="0.12" >U4 :</text>
<text x="118.50" y="483.60" font-size="6" text-anchor="start" fill="#8c8c8c" >–</text>
<text x="127.70 131.87 136.04 140.21" y="483.60" font-size="5.9" fill="#7a4fa3" stroke="#7a4fa3" stroke-width="0.2" text-anchor="middle">NNNN</text>
<text x="146.95" y="483.60" font-size="5.9" fill="#e8383d" stroke="#e8383d" stroke-width="0.2" text-anchor="middle">G</text>
<text x="151.24" y="483.60" font-size="5.9" fill="#3aa64c" stroke="#3aa64c" stroke-width="0.2" text-anchor="middle">U</text>
<text x="155.53 159.82 164.11 168.40" y="483.60" font-size="5.9" fill="#2aa0da" stroke="#2aa0da" stroke-width="0.2" text-anchor="middle">AAAU</text>
<line x1="153.38" y1="484.90" x2="170.55" y2="484.90" stroke="#9fd3f0" stroke-width="0.6" />
<text x="172.69 176.98" y="483.60" font-size="5.9" fill="#e8383d" stroke="#e8383d" stroke-width="0.2" text-anchor="middle">GA</text>
<text x="181.27 185.56 189.85 194.14" y="483.60" font-size="5.9" fill="#2aa0da" stroke="#2aa0da" stroke-width="0.2" text-anchor="middle">CGAU</text>
<line x1="179.12" y1="484.90" x2="196.28" y2="484.90" stroke="#9fd3f0" stroke-width="0.6" />
<text x="196.40" y="483.60" font-size="6" text-anchor="start" fill="#8c8c8c" >–</text>
<text x="138.50" y="490.50" font-size="6" text-anchor="start" fill="#8c8c8c" >–</text>
<text x="146.95" y="490.50" font-size="5.9" fill="#e8383d" stroke="#e8383d" stroke-width="0.2" text-anchor="middle">U</text>
<text x="151.24" y="490.50" font-size="5.9" fill="#3aa64c" stroke="#3aa64c" stroke-width="0.2" text-anchor="middle">A</text>
<text x="155.53 159.82 164.11 168.40" y="490.50" font-size="5.9" fill="#2aa0da" stroke="#2aa0da" stroke-width="0.2" text-anchor="middle">UUUA</text>
<line x1="153.38" y1="491.80" x2="170.55" y2="491.80" stroke="#9fd3f0" stroke-width="0.6" />
<text x="172.69" y="490.50" font-size="5.9" fill="#e8383d" stroke="#e8383d" stroke-width="0.2" text-anchor="middle">U</text>
<text x="181.27 185.56 189.85 194.14" y="490.50" font-size="5.9" fill="#2aa0da" stroke="#2aa0da" stroke-width="0.2" text-anchor="middle">GCUA</text>
<line x1="179.12" y1="491.80" x2="196.28" y2="491.80" stroke="#9fd3f0" stroke-width="0.6" />
<text x="196.40" y="490.50" font-size="6" text-anchor="start" fill="#8c8c8c" >–</text>
<text x="172.70" y="496.30" font-size="5.9" fill="#e8383d" stroke="#e8383d" stroke-width="0.2" text-anchor="middle">G</text>
<text x="177.40" y="498.60" font-size="5.9" fill="#e8383d" stroke="#e8383d" stroke-width="0.2" text-anchor="middle">A</text>
<text x="181.40" y="495.60" font-size="5.9" fill="#e8383d" stroke="#e8383d" stroke-width="0.2" text-anchor="middle">A</text>
<line x1="170.70" y1="491.80" x2="174.50" y2="491.80" stroke="#e8383d" stroke-width="0.5" />
<text x="103.80" y="507.60" font-size="7.3" text-anchor="start" fill="#505050" stroke="#505050" stroke-width="0.12" >U5 :</text>
<text x="118.50" y="507.20" font-size="6" text-anchor="start" fill="#8c8c8c" >–</text>
<text x="127.70 131.87 136.04 140.21" y="507.20" font-size="5.9" fill="#7a4fa3" stroke="#7a4fa3" stroke-width="0.2" text-anchor="middle">NNNN</text>
<text x="146.95" y="507.20" font-size="5.9" fill="#e8383d" stroke="#e8383d" stroke-width="0.2" text-anchor="middle">G</text>
<text x="151.24 155.53 159.82 164.11 168.40" y="507.20" font-size="5.9" fill="#2aa0da" stroke="#2aa0da" stroke-width="0.2" text-anchor="middle">AAAAU</text>
<line x1="149.09" y1="508.50" x2="170.54" y2="508.50" stroke="#9fd3f0" stroke-width="0.6" />
<text x="172.69 176.98" y="507.20" font-size="5.9" fill="#e8383d" stroke="#e8383d" stroke-width="0.2" text-anchor="middle">GA</text>
<text x="181.27 185.56 189.85 194.14" y="507.20" font-size="5.9" fill="#2aa0da" stroke="#2aa0da" stroke-width="0.2" text-anchor="middle">CGAU</text>
<line x1="179.12" y1="508.50" x2="196.28" y2="508.50" stroke="#9fd3f0" stroke-width="0.6" />
<text x="196.40" y="507.20" font-size="6" text-anchor="start" fill="#8c8c8c" >–</text>
<text x="138.50" y="514.10" font-size="6" text-anchor="start" fill="#8c8c8c" >–</text>
<text x="146.95" y="514.10" font-size="5.9" fill="#e8383d" stroke="#e8383d" stroke-width="0.2" text-anchor="middle">U</text>
<text x="151.24 155.53 159.82 164.11 168.40" y="514.10" font-size="5.9" fill="#2aa0da" stroke="#2aa0da" stroke-width="0.2" text-anchor="middle">UUUUA</text>
<line x1="149.09" y1="515.40" x2="170.54" y2="515.40" stroke="#9fd3f0" stroke-width="0.6" />
<text x="172.69" y="514.10" font-size="5.9" fill="#e8383d" stroke="#e8383d" stroke-width="0.2" text-anchor="middle">U</text>
<text x="181.27 185.56 189.85 194.14" y="514.10" font-size="5.9" fill="#2aa0da" stroke="#2aa0da" stroke-width="0.2" text-anchor="middle">GCUA</text>
<line x1="179.12" y1="515.40" x2="196.28" y2="515.40" stroke="#9fd3f0" stroke-width="0.6" />
<text x="196.40" y="514.10" font-size="6" text-anchor="start" fill="#8c8c8c" >–</text>
<text x="172.70" y="519.90" font-size="5.9" fill="#e8383d" stroke="#e8383d" stroke-width="0.2" text-anchor="middle">G</text>
<text x="177.40" y="522.20" font-size="5.9" fill="#e8383d" stroke="#e8383d" stroke-width="0.2" text-anchor="middle">A</text>
<text x="181.40" y="519.20" font-size="5.9" fill="#e8383d" stroke="#e8383d" stroke-width="0.2" text-anchor="middle">A</text>
<line x1="170.70" y1="515.40" x2="174.50" y2="515.40" stroke="#e8383d" stroke-width="0.5" />
<text x="-0.80" y="9.00" font-size="16.5" text-anchor="start" fill="#000" >a</text>
<circle cx="67.00" cy="47.20" r="14.60" fill="#dce8f6" stroke="none" stroke-width="1" />
<path d="M79.8,29.1 L31.6,71.8 Q28.4,74.8 28.4,79.2" stroke="#8298b8" stroke-width="1.7" fill="none" stroke-linecap="round"/>
<path d="M35.5,91.6 Q37.5,93.4 40.5,93.4 L85.6,93.4" stroke="#8298b8" stroke-width="1.7" fill="none" />
<ellipse cx="28.60" cy="82.40" rx="2.30" ry="4.80" fill="#d4d4d4" stroke="#222" stroke-width="0.8" transform="rotate(5 28.60 82.40)" />
<ellipse cx="33.80" cy="89.60" rx="4.80" ry="2.30" fill="#d4d4d4" stroke="#222" stroke-width="0.8" transform="rotate(40 33.80 89.60)" />
<line x1="65.50" y1="41.10" x2="74.50" y2="33.80" stroke="#6b3a9c" stroke-width="1.9" />
<line x1="63.70" y1="42.60" x2="65.60" y2="41.00" stroke="#f6c69c" stroke-width="1.9" />
<g transform="translate(50,55.5) rotate(-41.5)" fill="none" stroke-width="1.6"><path d="M21.5,4.8 L7.5,4.8 M7.5,9.2 L28.5,9.2 A2.2,2.2 0 0 1 28.5,13.600000000000001 L7,13.600000000000001 M7,18.0 L21,18.0 A2.2,2.2 0 0 1 21,22.400000000000002 L16.5,22.400000000000002" stroke="#a9a9a9"/><path d="M7.5,4.8 A2.2,2.2 0 0 0 7.5,9.2 M7,13.600000000000001 A2.2,2.2 0 0 0 7,18.0" stroke="#27a8e0" stroke-width="1.8"/><path d="M21.5,4.8 L32.4,4.8" stroke="#6b3a9c" stroke-width="1.9"/></g>
<path transform="translate(48.30,62.70) rotate(-20) scale(1.0)" d="M-3,-1.5 Q-1.5,1.2 0,0.2 Q1.5,1.2 3,-1.5 Q2.5,2.2 0,2.6 Q-2.5,2.2 -3,-1.5 Z" fill="#1e90d0" stroke="#0c2030" stroke-width="0.7"/>
<path transform="translate(55.70,60.50) rotate(10) scale(1.0)" d="M-3,-1.5 Q-1.5,1.2 0,0.2 Q1.5,1.2 3,-1.5 Q2.5,2.2 0,2.6 Q-2.5,2.2 -3,-1.5 Z" fill="#1e90d0" stroke="#0c2030" stroke-width="0.7"/>
<path transform="translate(54.10,66.20) rotate(-10) scale(1.0)" d="M-3,-1.5 Q-1.5,1.2 0,0.2 Q1.5,1.2 3,-1.5 Q2.5,2.2 0,2.6 Q-2.5,2.2 -3,-1.5 Z" fill="#1e90d0" stroke="#0c2030" stroke-width="0.7"/>
<path transform="translate(61.10,67.30) rotate(20) scale(1.0)" d="M-3,-1.5 Q-1.5,1.2 0,0.2 Q1.5,1.2 3,-1.5 Q2.5,2.2 0,2.6 Q-2.5,2.2 -3,-1.5 Z" fill="#1e90d0" stroke="#0c2030" stroke-width="0.7"/>
<path transform="translate(66.50,71.20) rotate(40) scale(1.0)" d="M-3,-1.5 Q-1.5,1.2 0,0.2 Q1.5,1.2 3,-1.5 Q2.5,2.2 0,2.6 Q-2.5,2.2 -3,-1.5 Z" fill="#1e90d0" stroke="#0c2030" stroke-width="0.7"/>
<path transform="translate(64.50,75.80) rotate(60) scale(1.0)" d="M-3,-1.5 Q-1.5,1.2 0,0.2 Q1.5,1.2 3,-1.5 Q2.5,2.2 0,2.6 Q-2.5,2.2 -3,-1.5 Z" fill="#1e90d0" stroke="#0c2030" stroke-width="0.7"/>
<path transform="translate(51.50,69.50) rotate(-30) scale(1.0)" d="M-3,-1.5 Q-1.5,1.2 0,0.2 Q1.5,1.2 3,-1.5 Q2.5,2.2 0,2.6 Q-2.5,2.2 -3,-1.5 Z" fill="#1e90d0" stroke="#0c2030" stroke-width="0.7"/>
<g transform="translate(53.00,76.00) rotate(0) scale(1.0)" stroke="#231a10" stroke-width="0.80" fill="#ef7d22"><ellipse cx="5.0" cy="-1.0" rx="3.4" ry="6.6" transform="rotate(28 5.0 -1.0)"/><ellipse cx="-4.0" cy="-0.5" rx="3.6" ry="6.8" transform="rotate(28 -4.0 -0.5)"/><ellipse cx="0.6" cy="0.8" rx="4.0" ry="7.6" transform="rotate(28 0.6 0.8)"/></g>
<path d="M54,93.4 L54,86.8 L65.2,86.8" stroke="#8298b8" stroke-width="1.5" fill="none" />
<polygon points="67.6,86.8 63.6,84.2 64.6,86.8 63.6,89.4" fill="#8298b8"/>
<line x1="38.10" y1="33.30" x2="53.60" y2="41.90" stroke="#1a1a1a" stroke-width="0.8" />
<line x1="79.20" y1="37.00" x2="96.00" y2="31.50" stroke="#1a1a1a" stroke-width="0.8" />
<line x1="63.20" y1="79.20" x2="78.20" y2="81.90" stroke="#1a1a1a" stroke-width="0.8" />
<text x="11.00" y="34.00" font-size="9.3" text-anchor="start" fill="#111" stroke="#111" stroke-width="0.12" >dCas9</text>
<text x="97.00" y="34.00" font-size="9.3" text-anchor="start" fill="#111" stroke="#111" stroke-width="0.12" >sgRNA</text>
<text x="11.00" y="85.20" font-size="9.3" text-anchor="start" fill="#111" stroke="#111" stroke-width="0.12" >IHF</text>
<text x="79.80" y="85.20" font-size="9.3" text-anchor="start" fill="#111" stroke="#111" stroke-width="0.12" >activator</text>
<text x="46.20" y="99.50" font-size="9.3" text-anchor="start" fill="#111" stroke="#111" stroke-width="0.12" >promoter</text>
<circle cx="67.30" cy="129.90" r="14.20" fill="#dce8f6" stroke="none" stroke-width="1" />
<path d="M78.4,113.5 L31.0,155.2 Q27.6,158.4 27.6,162.6" stroke="#8298b8" stroke-width="1.7" fill="none" stroke-linecap="round"/>
<path d="M34.6,178.2 Q36.6,180 39.6,180 L84.8,180" stroke="#8298b8" stroke-width="1.7" fill="none" />
<ellipse cx="27.60" cy="165.60" rx="2.30" ry="4.80" fill="#d4d4d4" stroke="#222" stroke-width="0.8" transform="rotate(5 27.60 165.60)" />
<ellipse cx="32.60" cy="174.60" rx="4.80" ry="2.30" fill="#d4d4d4" stroke="#222" stroke-width="0.8" transform="rotate(40 32.60 174.60)" />
<line x1="66.10" y1="124.60" x2="75.50" y2="117.00" stroke="#6b3a9c" stroke-width="1.9" />
<line x1="64.20" y1="126.10" x2="66.20" y2="124.50" stroke="#f6c69c" stroke-width="1.9" />
<g transform="translate(53.30,142.80) rotate(-41.8) scale(1.5)" fill="none" stroke-linecap="round"><path d="M1,2.6 L18.5,2.6 A1.3,1.3 0 0 1 18.5,5.2 L4,5.2 A1.3,1.3 0 0 0 4,7.800000000000001 L14,7.800000000000001 A1.3,1.3 0 0 1 14,10.4 L9.5,10.4 M9.5,13.0 L11.5,13.0 A1.3,1.3 0 0 1 11.5,15.600000000000001 L9.5,15.600000000000001 M9.5,18.200000000000003 L11.5,18.200000000000003 A1.3,1.3 0 0 1 11.5,20.8 L9.5,20.8 M9.5,23.400000000000002 L11.5,23.400000000000002" stroke="#a9a9a9" stroke-width="1.07"/><path d="M9.5,10.4 A1.3,1.3 0 0 0 9.5,13.0 M9.5,15.600000000000001 A1.3,1.3 0 0 0 9.5,18.200000000000003 M9.5,20.8 A1.3,1.3 0 0 0 9.5,23.400000000000002" stroke="#2aa7e0" stroke-width="1.23"/><path d="M0,0 L14.5,0" stroke="#a9a9a9" stroke-width="1.07"/><path d="M14.5,0 L22,0" stroke="#6a3d9a" stroke-width="1.28"/></g>
<path transform="translate(65.00,150.30) rotate(-20) scale(1.0)" d="M-3,-1.5 Q-1.5,1.2 0,0.2 Q1.5,1.2 3,-1.5 Q2.5,2.2 0,2.6 Q-2.5,2.2 -3,-1.5 Z" fill="#1e90d0" stroke="#0c2030" stroke-width="0.7"/>
<path transform="translate(73.20,148.50) rotate(10) scale(1.0)" d="M-3,-1.5 Q-1.5,1.2 0,0.2 Q1.5,1.2 3,-1.5 Q2.5,2.2 0,2.6 Q-2.5,2.2 -3,-1.5 Z" fill="#1e90d0" stroke="#0c2030" stroke-width="0.7"/>
<path transform="translate(71.40,154.00) rotate(-10) scale(1.0)" d="M-3,-1.5 Q-1.5,1.2 0,0.2 Q1.5,1.2 3,-1.5 Q2.5,2.2 0,2.6 Q-2.5,2.2 -3,-1.5 Z" fill="#1e90d0" stroke="#0c2030" stroke-width="0.7"/>
<path transform="translate(79.60,156.30) rotate(20) scale(1.0)" d="M-3,-1.5 Q-1.5,1.2 0,0.2 Q1.5,1.2 3,-1.5 Q2.5,2.2 0,2.6 Q-2.5,2.2 -3,-1.5 Z" fill="#1e90d0" stroke="#0c2030" stroke-width="0.7"/>
<path transform="translate(76.10,160.40) rotate(40) scale(1.0)" d="M-3,-1.5 Q-1.5,1.2 0,0.2 Q1.5,1.2 3,-1.5 Q2.5,2.2 0,2.6 Q-2.5,2.2 -3,-1.5 Z" fill="#1e90d0" stroke="#0c2030" stroke-width="0.7"/>
<path transform="translate(80.90,161.60) rotate(60) scale(1.0)" d="M-3,-1.5 Q-1.5,1.2 0,0.2 Q1.5,1.2 3,-1.5 Q2.5,2.2 0,2.6 Q-2.5,2.2 -3,-1.5 Z" fill="#1e90d0" stroke="#0c2030" stroke-width="0.7"/>
<path transform="translate(62.00,155.50) rotate(-30) scale(1.0)" d="M-3,-1.5 Q-1.5,1.2 0,0.2 Q1.5,1.2 3,-1.5 Q2.5,2.2 0,2.6 Q-2.5,2.2 -3,-1.5 Z" fill="#1e90d0" stroke="#0c2030" stroke-width="0.7"/>
<g transform="translate(67.60,163.00) rotate(0) scale(1.05)" stroke="#231a10" stroke-width="0.76" fill="#ef7d22"><ellipse cx="5.0" cy="-1.0" rx="3.4" ry="6.6" transform="rotate(28 5.0 -1.0)"/><ellipse cx="-4.0" cy="-0.5" rx="3.6" ry="6.8" transform="rotate(28 -4.0 -0.5)"/><ellipse cx="0.6" cy="0.8" rx="4.0" ry="7.6" transform="rotate(28 0.6 0.8)"/></g>
<path d="M62,180 L62,174.8 L74.2,174.8" stroke="#8298b8" stroke-width="1.5" fill="none" />
<polygon points="76.6,174.8 72.6,172.2 73.6,174.8 72.6,177.4" fill="#8298b8"/>
<line x1="39.30" y1="113.80" x2="53.90" y2="124.60" stroke="#1a1a1a" stroke-width="0.8" />
<line x1="80.20" y1="120.50" x2="96.50" y2="115.60" stroke="#1a1a1a" stroke-width="0.8" />
<line x1="81.90" y1="128.70" x2="96.50" y2="133.40" stroke="#1a1a1a" stroke-width="0.8" />
<line x1="77.20" y1="164.90" x2="93.00" y2="167.80" stroke="#1a1a1a" stroke-width="0.8" />
<text x="11.00" y="117.30" font-size="9.3" text-anchor="start" fill="#111" stroke="#111" stroke-width="0.12" >dCas9</text>
<text x="98.00" y="118.40" font-size="9.3" text-anchor="start" fill="#111" stroke="#111" stroke-width="0.12" >crRNA</text>
<text x="98.00" y="134.40" font-size="9.3" text-anchor="start" fill="#111" stroke="#111" stroke-width="0.12" >tracrRNA</text>
<text x="9.00" y="172.00" font-size="9.3" text-anchor="start" fill="#111" stroke="#111" stroke-width="0.12" >IHF</text>
<text x="95.20" y="171.20" font-size="9.3" text-anchor="start" fill="#111" stroke="#111" stroke-width="0.12" >activator</text>
<text x="52.60" y="187.60" font-size="9.3" text-anchor="start" fill="#111" stroke="#111" stroke-width="0.12" >promoter</text>
<path d="M158,52 C156,36 172,28.6 187,28.6 C204,28.6 215,38 214.5,50 C214,58 212,64 211,72 C210,80 200,85.6 190,85.6 C178,85.6 168,80 167.5,72 C162,68 158.5,62 158,52 Z" fill="#dce8f6"/>
<line x1="153.10" y1="43.60" x2="224.00" y2="43.60" stroke="#8298b8" stroke-width="1.7" />
<line x1="168.00" y1="43.60" x2="203.10" y2="43.60" stroke="#6b3a9c" stroke-width="1.9" />
<line x1="203.10" y1="43.60" x2="208.00" y2="43.60" stroke="#f6c69c" stroke-width="1.9" />
<line x1="153.10" y1="50.00" x2="168.50" y2="50.00" stroke="#8298b8" stroke-width="1.7" />
<line x1="202.80" y1="50.00" x2="224.00" y2="50.00" stroke="#8298b8" stroke-width="1.7" />
<path d="M168,50 L171.7,54.7 L199.6,54.7 L203.3,50" stroke="#6b3a9c" stroke-width="1.9" fill="none" stroke-linejoin="round"/>
<line x1="171.70" y1="61.30" x2="199.60" y2="61.30" stroke="#6b3a9c" stroke-width="1.9" />
<path d="M199.6,61.3 L224.4,61.3" stroke="#a9a9a9" stroke-width="1.6" fill="none" />
<path d="M224.4,61.3 A3.25,3.25 0 0 1 224.4,67.8" stroke="#1f9cb4" stroke-width="1.9" fill="none" />
<path d="M224.4,67.8 L182.9,67.8 A2.75,2.75 0 0 0 182.9,73.3 L214.5,73.3" stroke="#a9a9a9" stroke-width="1.6" fill="none" />
<path d="M214.5,73.3 A3.45,3.45 0 0 1 214.5,80.2" stroke="#1f9cb4" stroke-width="1.9" fill="none" />
<path d="M214.5,80.2 L192.8,80.2 A2.8,2.8 0 0 0 192.8,85.8 L207.7,85.8" stroke="#a9a9a9" stroke-width="1.6" fill="none" />
<rect x="195.7" y="58.2" width="33.7" height="12.7" rx="2.5" fill="none" stroke="#1a1a1a" stroke-width="1.2" stroke-dasharray="3,2"/>
<line x1="229.40" y1="58.20" x2="277.00" y2="37.90" stroke="#1a1a1a" stroke-width="1.2" stroke-dasharray="3.2,2.2"/>
<line x1="229.40" y1="70.90" x2="279.00" y2="80.20" stroke="#1a1a1a" stroke-width="1.2" stroke-dasharray="3.2,2.2"/>
<rect x="276.8" y="37.9" width="120.3" height="42.4" rx="6" fill="none" stroke="#1a1a1a" stroke-width="1.3" stroke-dasharray="4,2.6"/>
<path d="M142,135 C140,118 155,108 170,108 C186,108 197,117 196.8,130 C196.5,138 194.5,146 192.8,152 C191,159 182,162.6 172,162.6 C160,162.6 152,158 151,150 C145.5,146 142.3,141 142,135 Z" fill="#dce8f6"/>
<line x1="137.40" y1="122.20" x2="205.70" y2="122.20" stroke="#8298b8" stroke-width="1.7" />
<line x1="151.90" y1="122.20" x2="186.10" y2="122.20" stroke="#6b3a9c" stroke-width="1.9" />
<line x1="186.10" y1="122.20" x2="190.90" y2="122.20" stroke="#f6c69c" stroke-width="1.9" />
<line x1="137.40" y1="128.60" x2="152.40" y2="128.60" stroke="#8298b8" stroke-width="1.7" />
<line x1="185.60" y1="128.60" x2="205.70" y2="128.60" stroke="#8298b8" stroke-width="1.7" />
<path d="M151.9,128.6 L155.1,132.9 L183.2,132.9 L186.1,128.6" stroke="#6b3a9c" stroke-width="1.9" fill="none" stroke-linejoin="round"/>
<line x1="155.10" y1="139.30" x2="181.60" y2="139.30" stroke="#6b3a9c" stroke-width="1.9" />
<line x1="181.60" y1="139.30" x2="196.80" y2="139.30" stroke="#a9a9a9" stroke-width="1.6" />
<line x1="196.80" y1="139.30" x2="222.50" y2="139.30" stroke="#d98c8c" stroke-width="1.6" />
<path d="M205.7,145.8 L166.3,145.8 A2.65,2.65 0 0 0 166.3,151.1 L199.2,151.1 A2.55,2.55 0 0 1 199.2,156.2 L176,156.2 A3.2,3.2 0 0 0 176,162.6 L191.2,162.6" stroke="#a9a9a9" stroke-width="1.6" fill="none" />
<path d="M185.6,169.1 L191.2,169.1 M191.2,169.1 M185.6,169.1 L185.6,172.4 L191.2,172.4 M185.6,178.9 L191.2,178.9 M185.6,178.9 L185.6,182.2 L191.2,182.2 M185.6,188.7 L191.2,188.7" stroke="#a9a9a9" stroke-width="1.6" fill="none" />
<path d="M191.2,162.6 A3.25,3.25 0 0 1 191.2,169.1" stroke="#1f9cb4" stroke-width="1.9" fill="none" />
<path d="M191.2,172.4 A3.25,3.25 0 0 1 191.2,178.9" stroke="#1f9cb4" stroke-width="1.9" fill="none" />
<path d="M191.2,182.2 A3.25,3.25 0 0 1 191.2,188.7" stroke="#1f9cb4" stroke-width="1.9" fill="none" />
<rect x="179.2" y="135.7" width="46.5" height="12.5" rx="2.5" fill="none" stroke="#1a1a1a" stroke-width="1.2" stroke-dasharray="3,2"/>
<line x1="225.70" y1="135.70" x2="244.20" y2="122.50" stroke="#1a1a1a" stroke-width="1.2" stroke-dasharray="3.2,2.2"/>
<line x1="225.70" y1="148.20" x2="244.20" y2="161.00" stroke="#1a1a1a" stroke-width="1.2" stroke-dasharray="3.2,2.2"/>
<rect x="242.2" y="120.0" width="180.9" height="42.8" rx="6" fill="none" stroke="#1a1a1a" stroke-width="1.3" stroke-dasharray="4,2.6"/>
<text x="280.40" y="54.00" font-size="5.8" text-anchor="start" fill="#8c8c8c" >–</text>
<text x="288.90 293.05 297.20 301.35" y="54.00" font-size="5.7" fill="#7a4fa3" stroke="#7a4fa3" stroke-width="0.2" text-anchor="middle">NNNN</text>
<text x="307.10" y="54.00" font-size="5.7" fill="#e8383d" stroke="#e8383d" stroke-width="0.2" text-anchor="middle">G</text>
<text x="311.03 314.96 318.89 322.82 326.75" y="54.00" font-size="5.7" fill="#3aa64c" stroke="#3aa64c" stroke-width="0.2" text-anchor="middle">UUUGA</text>
<text x="330.68 334.61" y="54.00" font-size="5.7" fill="#e8383d" stroke="#e8383d" stroke-width="0.2" text-anchor="middle">GA</text>
<text x="338.54 342.47 346.40 350.33" y="54.00" font-size="5.7" fill="#3aa64c" stroke="#3aa64c" stroke-width="0.2" text-anchor="middle">GCUA</text>
<text x="354.26 358.19" y="54.00" font-size="5.7" fill="#8c8c8c" stroke="#8c8c8c" stroke-width="0.2" text-anchor="middle">GG</text>
<text x="362.12 366.05 369.98 373.91 377.84 381.77 385.70" y="54.00" font-size="5.7" fill="#1f9cb4" stroke="#1f9cb4" stroke-width="0.2" text-anchor="middle">GCCCUGA</text>
<circle cx="306.90" cy="58.60" r="0.80" fill="#111" stroke="none" stroke-width="1" />
<circle cx="330.00" cy="58.60" r="0.80" fill="#111" stroke="none" stroke-width="1" />
<line x1="311.30" y1="55.80" x2="311.30" y2="61.40" stroke="#111" stroke-width="1.3" />
<line x1="315.03" y1="55.80" x2="315.03" y2="61.40" stroke="#111" stroke-width="1.3" />
<line x1="318.76" y1="55.80" x2="318.76" y2="61.40" stroke="#111" stroke-width="1.3" />
<line x1="322.49" y1="55.80" x2="322.49" y2="61.40" stroke="#111" stroke-width="1.3" />
<line x1="326.22" y1="55.80" x2="326.22" y2="61.40" stroke="#111" stroke-width="1.3" />
<line x1="337.60" y1="55.80" x2="337.60" y2="61.40" stroke="#111" stroke-width="1.3" />
<line x1="341.67" y1="55.80" x2="341.67" y2="61.40" stroke="#111" stroke-width="1.3" />
<line x1="345.74" y1="55.80" x2="345.74" y2="61.40" stroke="#111" stroke-width="1.3" />
<line x1="349.81" y1="55.80" x2="349.81" y2="61.40" stroke="#111" stroke-width="1.3" />
<line x1="354.20" y1="55.80" x2="354.20" y2="61.40" stroke="#b0b0b0" stroke-width="1.0" />
<line x1="358.43" y1="55.80" x2="358.43" y2="61.40" stroke="#b0b0b0" stroke-width="1.0" />
<line x1="362.66" y1="55.80" x2="362.66" y2="61.40" stroke="#b0b0b0" stroke-width="1.0" />
<line x1="366.89" y1="55.80" x2="366.89" y2="61.40" stroke="#b0b0b0" stroke-width="1.0" />
<line x1="371.12" y1="55.80" x2="371.12" y2="61.40" stroke="#b0b0b0" stroke-width="1.0" />
<line x1="375.35" y1="55.80" x2="375.35" y2="61.40" stroke="#b0b0b0" stroke-width="1.0" />
<line x1="379.58" y1="55.80" x2="379.58" y2="61.40" stroke="#b0b0b0" stroke-width="1.0" />
<text x="390.30" y="60.60" font-size="5.7" fill="#1f9cb4" stroke="#1f9cb4" stroke-width="0.2" text-anchor="middle">A</text>
<text x="298.80" y="66.80" font-size="5.8" text-anchor="start" fill="#8c8c8c" >–</text>
<text x="307.10" y="66.80" font-size="5.7" fill="#e8383d" stroke="#e8383d" stroke-width="0.2" text-anchor="middle">U</text>
<text x="311.03 314.96 318.89 322.82 326.75" y="66.80" font-size="5.7" fill="#3aa64c" stroke="#3aa64c" stroke-width="0.2" text-anchor="middle">AAACU</text>
<text x="330.68" y="66.80" font-size="5.7" fill="#e8383d" stroke="#e8383d" stroke-width="0.2" text-anchor="middle">U</text>
<text x="338.34 342.27 346.20 350.13" y="66.80" font-size="5.7" fill="#3aa64c" stroke="#3aa64c" stroke-width="0.2" text-anchor="middle">CGAU</text>
<text x="354.06 357.99" y="66.80" font-size="5.7" fill="#8c8c8c" stroke="#8c8c8c" stroke-width="0.2" text-anchor="middle">CC</text>
<text x="361.92 365.85 369.78 373.71 377.64 381.57 385.50" y="66.80" font-size="5.7" fill="#1f9cb4" stroke="#1f9cb4" stroke-width="0.2" text-anchor="middle">CGGGAAG</text>
<text x="330.60" y="72.00" font-size="5.7" fill="#e8383d" stroke="#e8383d" stroke-width="0.2" text-anchor="middle">G</text>
<text x="335.40" y="75.00" font-size="5.7" fill="#e8383d" stroke="#e8383d" stroke-width="0.2" text-anchor="middle">A</text>
<text x="340.00" y="71.00" font-size="5.7" fill="#e8383d" stroke="#e8383d" stroke-width="0.2" text-anchor="middle">A</text>
<text x="246.60" y="136.20" font-size="5.8" text-anchor="start" fill="#8c8c8c" >–</text>
<text x="254.40 258.40 262.40 266.40" y="136.20" font-size="5.7" fill="#7a4fa3" stroke="#7a4fa3" stroke-width="0.2" text-anchor="middle">NNNN</text>
<text x="272.60" y="136.20" font-size="5.7" fill="#e8383d" stroke="#e8383d" stroke-width="0.2" text-anchor="middle">G</text>
<text x="276.50 280.40 284.30 288.20 292.10" y="136.20" font-size="5.7" fill="#3aa64c" stroke="#3aa64c" stroke-width="0.2" text-anchor="middle">UUUUA</text>
<text x="296.00 299.90" y="136.20" font-size="5.7" fill="#e8383d" stroke="#e8383d" stroke-width="0.2" text-anchor="middle">GA</text>
<text x="303.80 307.70 311.60 315.50" y="136.20" font-size="5.7" fill="#3aa64c" stroke="#3aa64c" stroke-width="0.2" text-anchor="middle">GCUA</text>
<text x="319.40 323.30 327.20 331.10 335.00 338.90 342.80 346.70 350.60 354.50" y="136.20" font-size="5.7" fill="#8c8c8c" stroke="#8c8c8c" stroke-width="0.2" text-anchor="middle">UGCUGUUUUG</text>
<text x="356.84" y="136.20" font-size="5.8" text-anchor="start" fill="#8c8c8c" >–</text>
<text x="362.90" y="136.20" font-size="5.8" text-anchor="start" fill="#b85454" >Terminator</text>
<text x="392.40" y="136.20" font-size="5.8" text-anchor="start" fill="#8c8c8c" >–</text>
<text x="398.30" y="136.20" font-size="5.8" text-anchor="start" fill="#8c8c8c" >3′</text>
<circle cx="272.40" cy="140.40" r="0.80" fill="#111" stroke="none" stroke-width="1" />
<circle cx="295.50" cy="140.40" r="0.80" fill="#111" stroke="none" stroke-width="1" />
<line x1="276.50" y1="137.60" x2="276.50" y2="143.20" stroke="#111" stroke-width="1.3" />
<line x1="280.33" y1="137.60" x2="280.33" y2="143.20" stroke="#111" stroke-width="1.3" />
<line x1="284.16" y1="137.60" x2="284.16" y2="143.20" stroke="#111" stroke-width="1.3" />
<line x1="287.99" y1="137.60" x2="287.99" y2="143.20" stroke="#111" stroke-width="1.3" />
<line x1="291.82" y1="137.60" x2="291.82" y2="143.20" stroke="#111" stroke-width="1.3" />
<line x1="304.20" y1="137.60" x2="304.20" y2="143.20" stroke="#111" stroke-width="1.3" />
<line x1="308.10" y1="137.60" x2="308.10" y2="143.20" stroke="#111" stroke-width="1.3" />
<line x1="312.00" y1="137.60" x2="312.00" y2="143.20" stroke="#111" stroke-width="1.3" />
<line x1="315.90" y1="137.60" x2="315.90" y2="143.20" stroke="#111" stroke-width="1.3" />
<line x1="319.60" y1="137.60" x2="319.60" y2="143.20" stroke="#b0b0b0" stroke-width="1.0" />
<line x1="323.50" y1="137.60" x2="323.50" y2="143.20" stroke="#b0b0b0" stroke-width="1.0" />
<line x1="327.40" y1="137.60" x2="327.40" y2="143.20" stroke="#b0b0b0" stroke-width="1.0" />
<line x1="331.30" y1="137.60" x2="331.30" y2="143.20" stroke="#b0b0b0" stroke-width="1.0" />
<line x1="335.20" y1="137.60" x2="335.20" y2="143.20" stroke="#b0b0b0" stroke-width="1.0" />
<line x1="339.10" y1="137.60" x2="339.10" y2="143.20" stroke="#b0b0b0" stroke-width="1.0" />
<line x1="343.00" y1="137.60" x2="343.00" y2="143.20" stroke="#b0b0b0" stroke-width="1.0" />
<line x1="346.90" y1="137.60" x2="346.90" y2="143.20" stroke="#b0b0b0" stroke-width="1.0" />
<line x1="350.80" y1="137.60" x2="350.80" y2="143.20" stroke="#b0b0b0" stroke-width="1.0" />
<line x1="354.70" y1="137.60" x2="354.70" y2="143.20" stroke="#b0b0b0" stroke-width="1.0" />
<text x="264.00" y="149.00" font-size="5.8" text-anchor="start" fill="#8c8c8c" >–</text>
<text x="272.60" y="149.00" font-size="5.7" fill="#e8383d" stroke="#e8383d" stroke-width="0.2" text-anchor="middle">U</text>
<text x="276.50 280.40 284.30 288.20 292.10" y="149.00" font-size="5.7" fill="#3aa64c" stroke="#3aa64c" stroke-width="0.2" text-anchor="middle">AAAAU</text>
<text x="296.00" y="149.00" font-size="5.7" fill="#e8383d" stroke="#e8383d" stroke-width="0.2" text-anchor="middle">U</text>
<text x="303.80 307.70 311.60 315.50" y="149.00" font-size="5.7" fill="#3aa64c" stroke="#3aa64c" stroke-width="0.2" text-anchor="middle">CGAU</text>
<text x="319.40 323.30 327.20 331.10 335.00 338.90 342.80 346.70 350.60 354.50 358.40 362.30 366.20 370.10 374.00 377.90 381.80 385.70 389.60" y="149.00" font-size="5.7" fill="#8c8c8c" stroke="#8c8c8c" stroke-width="0.2" text-anchor="middle">ACGACAAAACUUACCAAGG</text>
<text x="392.60" y="149.00" font-size="5.8" text-anchor="start" fill="#8c8c8c" >–</text>
<text x="399.00" y="149.00" font-size="5.8" text-anchor="start" fill="#8c8c8c" >Scar</text>
<text x="409.40" y="149.00" font-size="5.8" text-anchor="start" fill="#8c8c8c" >–</text>
<text x="416.60" y="149.00" font-size="5.8" text-anchor="start" fill="#8c8c8c" >5′</text>
<text x="297.50" y="154.80" font-size="5.7" fill="#e8383d" stroke="#e8383d" stroke-width="0.2" text-anchor="middle">G</text>
<text x="301.90" y="157.50" font-size="5.7" fill="#e8383d" stroke="#e8383d" stroke-width="0.2" text-anchor="middle">A</text>
<text x="306.20" y="154.00" font-size="5.7" fill="#e8383d" stroke="#e8383d" stroke-width="0.2" text-anchor="middle">A</text>
<g transform="translate(567.40,419.40) rotate(-62) scale(0.74)" stroke="#231a10" stroke-width="1.08" fill="#ef7d22"><ellipse cx="5.0" cy="-1.0" rx="3.4" ry="6.6" transform="rotate(28 5.0 -1.0)"/><ellipse cx="-4.0" cy="-0.5" rx="3.6" ry="6.8" transform="rotate(28 -4.0 -0.5)"/><ellipse cx="0.6" cy="0.8" rx="4.0" ry="7.6" transform="rotate(28 0.6 0.8)"/></g>
<path transform="translate(570.30,410.90) rotate(-10) scale(0.85)" d="M-3,-1.5 Q-1.5,1.2 0,0.2 Q1.5,1.2 3,-1.5 Q2.5,2.2 0,2.6 Q-2.5,2.2 -3,-1.5 Z" fill="#1e90d0" stroke="#0c2030" stroke-width="0.7"/>
<path transform="translate(575.60,410.70) rotate(30) scale(0.85)" d="M-3,-1.5 Q-1.5,1.2 0,0.2 Q1.5,1.2 3,-1.5 Q2.5,2.2 0,2.6 Q-2.5,2.2 -3,-1.5 Z" fill="#1e90d0" stroke="#0c2030" stroke-width="0.7"/>
<path transform="translate(573.00,415.00) rotate(10) scale(0.85)" d="M-3,-1.5 Q-1.5,1.2 0,0.2 Q1.5,1.2 3,-1.5 Q2.5,2.2 0,2.6 Q-2.5,2.2 -3,-1.5 Z" fill="#1e90d0" stroke="#0c2030" stroke-width="0.7"/>
<path transform="translate(576.90,417.60) rotate(50) scale(0.85)" d="M-3,-1.5 Q-1.5,1.2 0,0.2 Q1.5,1.2 3,-1.5 Q2.5,2.2 0,2.6 Q-2.5,2.2 -3,-1.5 Z" fill="#1e90d0" stroke="#0c2030" stroke-width="0.7"/>
<path transform="translate(578.30,420.50) rotate(80) scale(0.85)" d="M-3,-1.5 Q-1.5,1.2 0,0.2 Q1.5,1.2 3,-1.5 Q2.5,2.2 0,2.6 Q-2.5,2.2 -3,-1.5 Z" fill="#1e90d0" stroke="#0c2030" stroke-width="0.7"/>
<path transform="translate(575.00,423.60) rotate(110) scale(0.85)" d="M-3,-1.5 Q-1.5,1.2 0,0.2 Q1.5,1.2 3,-1.5 Q2.5,2.2 0,2.6 Q-2.5,2.2 -3,-1.5 Z" fill="#1e90d0" stroke="#0c2030" stroke-width="0.7"/>
</svg>
</body></html>
